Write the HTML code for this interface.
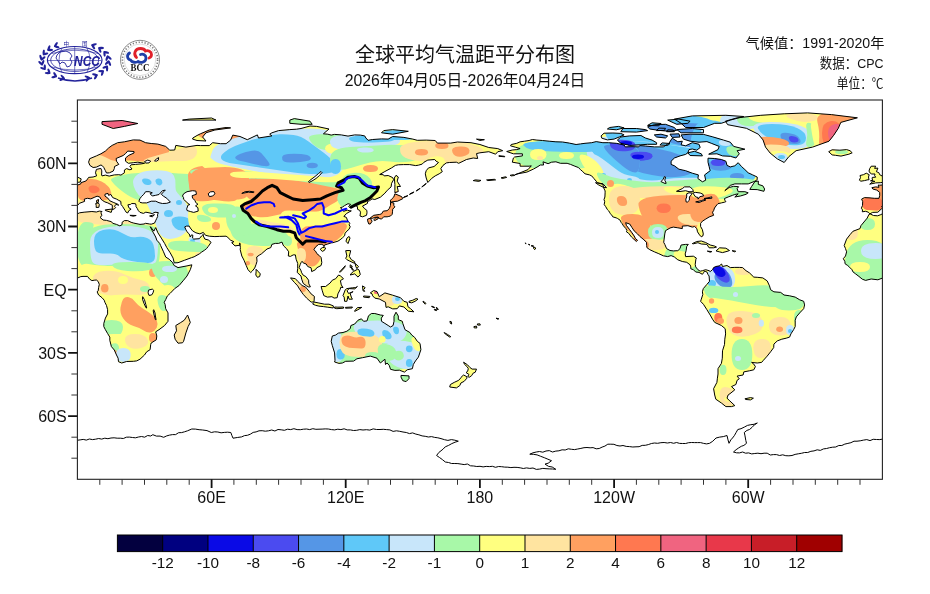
<!DOCTYPE html>
<html><head><meta charset="utf-8"><style>
html,body{margin:0;padding:0;background:#fff;width:930px;height:594px;overflow:hidden}
svg{display:block}
.t{font-family:"Liberation Sans","Noto Sans CJK SC",sans-serif;fill:#111}
</style></head><body>
<svg width="930" height="594" viewBox="0 0 930 594">
<defs>
<clipPath id="fr"><rect x="77.4" y="100" width="805" height="379.3"/></clipPath>
<clipPath id="ld"><path d="M64.9,213.9L67.6,212.4L72.9,212.2L76.3,209.0L77.8,208.0L76.7,206.5L79.4,203.3L84.6,201.4L84.3,199.1L87.5,198.3L90.8,198.9L94.2,197.4L97.1,196.2L99.8,197.0L100.9,199.1L102.4,200.4L104.9,201.9L107.8,202.9L112.3,205.2L112.3,209.6L114.5,208.8L115.6,207.5L114.5,206.3L115.9,204.4L118.8,205.2L117.7,204.2L113.2,202.3L109.8,200.8L107.8,198.1L104.9,196.0L105.1,194.1L108.0,193.4L108.5,195.3L110.9,194.5L112.7,197.6L116.5,199.1L118.8,200.4L120.8,201.4L121.0,204.4L122.6,206.5L125.0,210.3L126.1,212.2L127.7,213.0L128.8,210.7L131.1,209.2L128.8,207.7L127.9,204.8L130.6,204.4L131.7,203.5L135.5,203.7L136.0,205.2L136.0,206.5L137.3,208.6L138.4,210.7L140.0,212.4L143.4,213.4L145.8,212.2L149.0,212.8L152.3,213.6L155.0,212.2L158.3,212.6L157.5,214.9L157.7,216.4L156.8,218.3L155.9,220.2L154.5,223.1L151.2,224.2L149.6,224.0L145.6,223.3L144.0,224.0L140.0,224.4L133.8,223.1L131.1,222.3L127.7,220.6L124.4,220.6L122.1,222.3L122.1,224.6L119.9,225.9L116.5,224.4L112.7,223.3L111.4,221.7L106.5,220.4L103.1,220.0L100.0,217.4L102.0,215.5L100.9,212.8L102.0,211.5L99.3,211.1L96.4,212.0L91.9,211.5L84.1,212.2L79.6,212.8L75.2,214.9L72.5,215.8L68.5,215.5L65.5,214.1L64.0,214.3L62.2,218.1L55.9,225.7L55.0,228.6L47.9,231.3L45.0,234.7L41.6,239.1L39.2,245.5L40.5,248.6L41.6,251.8L40.5,256.0L38.3,258.7L39.8,261.3L40.1,263.8L42.7,265.5L44.5,267.2L47.0,269.7L47.9,271.8L50.6,273.9L53.9,276.4L57.3,279.2L60.6,280.4L66.2,279.0L72.9,279.8L77.4,278.1L80.8,276.6L83.0,276.4L87.5,276.4L89.7,279.2L91.9,280.6L94.2,280.2L96.4,280.0L98.2,281.5L99.3,284.4L98.6,287.6L98.2,290.8L97.1,291.8L98.6,295.0L102.0,297.7L104.2,300.2L104.9,302.3L106.5,305.5L107.6,309.7L107.6,313.9L105.4,318.1L103.8,323.4L103.8,326.6L105.4,329.7L107.6,333.5L109.8,337.1L109.8,340.3L111.4,346.6L114.3,350.0L116.5,355.0L118.1,358.2L118.5,361.7L121.7,363.0L126.6,361.5L133.3,361.3L136.7,360.9L140.0,359.2L144.5,355.0L146.7,351.8L150.1,349.7L150.7,344.5L151.2,343.0L156.3,339.8L156.8,336.0L155.7,331.8L159.0,329.7L164.6,325.5L168.0,321.3L168.0,312.9L165.7,308.7L165.1,304.4L164.2,302.3L165.7,299.6L167.3,296.0L170.2,293.3L174.7,288.6L179.1,285.5L183.6,280.2L187.0,276.0L190.3,269.7L191.9,264.8L187.0,265.9L178.0,267.6L174.2,265.5L172.4,262.3L169.1,259.2L165.7,257.0L163.5,251.8L160.6,245.5L159.7,243.4L156.8,240.2L155.7,237.0L153.4,232.8L152.3,230.7L150.3,226.7L153.9,231.1L155.7,227.6L157.9,232.8L161.3,238.1L164.6,243.4L166.8,247.6L170.2,252.8L173.1,258.1L174.2,262.9L178.0,262.7L184.7,260.2L191.4,257.7L194.1,256.8L199.3,253.9L201.5,252.2L204.4,250.3L206.6,248.6L208.2,246.5L211.1,242.3L208.4,240.0L204.9,239.1L203.3,236.0L203.3,234.3L201.5,236.0L199.3,238.7L193.7,239.1L192.6,238.1L192.8,235.1L191.4,234.9L190.3,237.0L189.2,233.9L187.0,231.8L185.9,229.7L184.7,226.9L186.5,226.1L189.2,226.1L190.3,228.0L192.6,230.9L195.9,232.8L199.9,233.9L203.3,232.4L205.5,235.3L209.3,236.2L214.9,236.6L219.4,236.4L226.1,236.2L227.9,237.5L230.6,240.2L233.9,241.7L231.7,242.7L235.0,245.9L240.0,245.2L239.7,242.9L240.4,247.6L240.2,249.7L241.8,256.0L244.0,260.2L246.2,265.5L248.0,269.7L250.7,272.6L252.3,271.0L254.7,268.0L256.1,264.4L257.0,261.3L256.7,257.0L259.2,255.2L261.4,253.9L267.0,249.0L270.8,247.6L271.9,244.4L275.3,243.4L278.6,243.4L282.0,242.1L283.1,245.0L283.8,246.1L286.5,248.6L288.7,251.8L288.3,256.0L290.5,256.4L293.2,254.9L295.4,254.9L296.1,259.2L297.7,263.4L297.7,268.6L297.2,272.4L301.0,276.0L301.7,279.2L303.2,283.4L306.6,285.9L308.8,287.0L310.4,286.8L308.8,283.8L308.6,280.2L305.9,276.6L303.2,275.2L301.7,272.8L300.8,270.1L299.2,267.6L300.1,264.8L301.0,262.7L302.1,261.3L303.2,262.9L306.2,264.0L307.7,266.5L311.1,267.8L311.7,271.6L315.5,269.7L316.7,267.8L321.1,265.5L321.8,262.5L321.1,257.5L319.3,255.6L316.9,253.7L315.5,251.1L313.8,249.7L315.8,246.7L318.7,244.4L322.5,244.2L324.0,246.7L324.5,245.0L327.2,244.2L331.2,242.9L332.8,242.7L337.9,241.2L340.1,239.8L342.4,237.9L344.6,235.8L345.1,233.2L346.9,231.1L349.1,229.2L350.2,226.7L349.1,224.8L350.0,223.3L347.7,221.0L346.4,217.4L343.9,216.4L346.4,213.6L349.1,212.0L351.3,210.9L349.1,210.7L347.3,210.1L343.5,211.3L342.4,209.6L340.4,207.7L342.4,207.1L344.6,205.6L348.0,203.7L350.7,204.4L348.6,206.5L349.5,207.5L351.3,206.5L355.3,205.6L357.4,206.5L357.6,209.4L359.6,210.3L360.5,212.2L360.0,216.0L362.5,216.8L366.5,215.3L367.0,212.8L366.8,210.3L364.3,208.4L362.5,206.1L365.0,204.8L367.6,203.3L367.4,201.6L369.7,200.6L372.1,198.9L374.8,199.5L380.4,197.2L384.9,193.2L387.3,190.3L391.1,186.9L391.6,183.3L393.6,179.7L392.7,177.6L388.2,175.5L384.2,175.9L383.3,174.7L379.7,174.5L384.9,171.5L391.6,167.9L395.4,165.4L398.3,164.8L403.6,164.6L409.7,164.6L415.7,165.6L418.4,165.2L422.2,164.1L424.0,162.2L427.8,160.1L434.7,159.5L436.1,161.2L438.5,162.5L434.1,166.5L428.5,167.9L426.2,170.7L425.3,173.8L426.2,178.0L427.8,182.5L431.8,178.3L435.2,175.9L439.2,173.8L442.3,171.7L440.8,168.6L443.0,165.4L446.4,162.9L449.3,162.5L456.4,162.2L458.7,163.3L463.1,161.2L466.5,159.5L473.2,158.0L477.7,158.5L476.5,153.6L479.9,152.8L488.8,151.7L495.6,154.2L497.8,151.7L502.7,150.7L497.8,148.6L488.8,147.5L479.9,144.5L471.0,142.7L457.5,142.0L450.8,143.1L437.4,143.1L435.2,140.5L426.2,140.1L417.3,140.3L412.8,139.1L403.9,137.4L392.7,136.5L388.2,139.1L381.5,138.9L372.6,139.5L368.1,140.3L365.9,138.0L364.7,135.9L360.3,135.1L354.7,134.9L348.0,136.1L341.3,134.9L334.6,134.4L331.2,135.1L327.8,134.2L323.4,133.8L329.0,129.0L316.7,126.4L310.0,126.0L301.0,128.5L296.5,129.2L289.8,129.6L278.6,130.6L271.9,132.8L269.7,134.2L271.9,135.9L258.5,138.0L257.4,134.9L247.3,139.7L240.0,136.5L232.8,135.1L230.6,140.1L226.1,143.7L220.5,143.7L212.7,142.7L209.3,145.6L200.4,145.6L197.0,145.4L185.9,147.1L175.8,145.4L174.7,150.0L169.8,150.2L165.7,146.4L157.9,144.1L151.2,143.5L145.6,142.7L140.0,140.1L133.3,139.9L124.4,141.8L117.7,142.7L112.1,145.4L108.7,147.9L105.4,151.1L100.9,153.8L96.4,155.9L89.7,158.7L88.6,162.2L89.9,165.4L93.1,167.5L96.4,167.1L100.9,165.0L102.2,165.6L103.8,167.5L105.4,170.7L106.5,173.0L109.4,172.8L113.2,171.1L114.3,168.6L114.5,166.5L118.8,164.4L116.5,161.2L116.1,158.5L123.2,155.5L125.5,153.6L127.7,151.1L134.0,151.5L134.0,153.0L128.8,155.3L125.5,158.0L125.5,161.2L128.4,163.3L133.3,162.7L137.8,162.2L144.5,163.3L141.1,163.9L135.5,164.4L131.1,164.8L129.9,166.5L132.0,169.0L129.9,169.8L126.6,168.6L124.4,170.0L124.4,172.8L122.1,174.3L121.0,175.1L118.8,174.7L114.3,174.9L109.2,176.1L105.4,175.1L102.0,175.9L101.6,175.1L101.8,170.9L100.9,168.4L96.4,169.4L95.5,172.8L96.6,175.9L93.1,177.0L88.6,177.4L87.5,179.1L85.9,181.0L83.0,182.0L81.0,182.5L80.8,183.9L77.8,185.0L74.5,185.2L73.2,185.0L74.0,187.3L70.7,186.9L66.9,187.7L67.8,189.0L71.8,190.1L74.7,192.4L74.7,195.5L74.0,198.3L69.6,198.3L64.0,197.8L59.5,197.6L56.6,199.1L57.7,201.6L57.5,205.4L56.4,208.2L57.5,209.9L57.3,211.8L60.6,211.3L63.3,212.2ZM869.9,213.9L872.6,212.4L877.9,212.2L881.3,209.0L882.8,208.0L881.7,206.5L884.4,203.3L889.6,201.4L889.3,199.1L892.5,198.3L895.8,198.9L899.2,197.4L902.1,196.2L904.8,197.0L905.9,199.1L907.4,200.4L909.9,201.9L912.8,202.9L917.3,205.2L917.3,209.6L919.5,208.8L920.6,207.5L919.5,206.3L920.9,204.4L923.8,205.2L922.6,204.2L918.2,202.3L914.8,200.8L912.8,198.1L909.9,196.0L910.1,194.1L913.0,193.4L913.5,195.3L915.9,194.5L917.7,197.6L921.5,199.1L923.8,200.4L925.8,201.4L926.0,204.4L927.6,206.5L930.0,210.3L931.1,212.2L932.7,213.0L933.8,210.7L936.1,209.2L933.8,207.7L932.9,204.8L935.6,204.4L936.7,203.5L940.5,203.7L941.0,205.2L941.0,206.5L942.3,208.6L943.4,210.7L945.0,212.4L948.4,213.4L950.8,212.2L954.0,212.8L957.3,213.6L960.0,212.2L963.3,212.6L962.5,214.9L962.7,216.4L961.8,218.3L960.9,220.2L959.5,223.1L956.2,224.2L954.6,224.0L950.6,223.3L949.0,224.0L945.0,224.4L938.8,223.1L936.1,222.3L932.7,220.6L929.4,220.6L927.1,222.3L927.1,224.6L924.9,225.9L921.5,224.4L917.7,223.3L916.4,221.7L911.5,220.4L908.1,220.0L905.0,217.4L907.0,215.5L905.9,212.8L907.0,211.5L904.3,211.1L901.4,212.0L896.9,211.5L889.1,212.2L884.6,212.8L880.2,214.9L877.5,215.8L873.5,215.5L870.5,214.1L869.0,214.3L867.2,218.1L860.9,225.7L860.0,228.6L852.9,231.3L850.0,234.7L846.6,239.1L844.2,245.5L845.5,248.6L846.6,251.8L845.5,256.0L843.3,258.7L844.8,261.3L845.1,263.8L847.7,265.5L849.5,267.2L852.0,269.7L852.9,271.8L855.6,273.9L858.9,276.4L862.3,279.2L865.6,280.4L871.2,279.0L877.9,279.8L882.4,278.1L885.8,276.6L888.0,276.4L892.5,276.4L894.7,279.2L896.9,280.6L899.2,280.2L901.4,280.0L903.2,281.5L904.3,284.4L903.6,287.6L903.2,290.8L902.1,291.8L903.6,295.0L907.0,297.7L909.2,300.2L909.9,302.3L911.5,305.5L912.6,309.7L912.6,313.9L910.4,318.1L908.8,323.4L908.8,326.6L910.4,329.7L912.6,333.5L914.8,337.1L914.8,340.3L916.4,346.6L919.3,350.0L921.5,355.0L923.1,358.2L923.5,361.7L926.7,363.0L931.6,361.5L938.3,361.3L941.7,360.9L945.0,359.2L949.5,355.0L951.7,351.8L955.1,349.7L955.7,344.5L956.2,343.0L961.3,339.8L961.8,336.0L960.7,331.8L964.0,329.7L969.6,325.5L973.0,321.3L973.0,312.9L970.7,308.7L970.1,304.4L969.2,302.3L970.7,299.6L972.3,296.0L975.2,293.3L979.7,288.6L984.1,285.5L988.6,280.2L992.0,276.0L995.3,269.7L996.9,264.8L992.0,265.9L983.0,267.6L979.2,265.5L977.4,262.3L974.1,259.2L970.7,257.0L968.5,251.8L965.6,245.5L964.7,243.4L961.8,240.2L960.7,237.0L958.4,232.8L957.3,230.7L955.3,226.7L958.9,231.1L960.7,227.6L962.9,232.8L966.3,238.1L969.6,243.4L971.8,247.6L975.2,252.8L978.1,258.1L979.2,262.9L983.0,262.7L989.7,260.2L996.4,257.7L999.1,256.8L1004.3,253.9L1006.5,252.2L1009.4,250.3L1011.6,248.6L1013.2,246.5L1016.1,242.3L1013.4,240.0L1009.9,239.1L1008.3,236.0L1008.3,234.3L1006.5,236.0L1004.3,238.7L998.7,239.1L997.6,238.1L997.8,235.1L996.4,234.9L995.3,237.0L994.2,233.9L992.0,231.8L990.9,229.7L989.7,226.9L991.5,226.1L994.2,226.1L995.3,228.0L997.6,230.9L1000.9,232.8L1004.9,233.9L1008.3,232.4L1010.5,235.3L1014.3,236.2L1019.9,236.6L1024.4,236.4L1031.1,236.2L1032.9,237.5L1035.6,240.2L1038.9,241.7L1036.7,242.7L1040.0,245.9L1045.0,245.2L1044.7,242.9L1045.4,247.6L1045.2,249.7L1046.8,256.0L1049.0,260.2L1051.2,265.5L1053.0,269.7L1055.7,272.6L1057.3,271.0L1059.7,268.0L1061.1,264.4L1062.0,261.3L1061.7,257.0L1064.2,255.2L1066.4,253.9L1072.0,249.0L1075.8,247.6L1076.9,244.4L1080.3,243.4L1083.7,243.4L1087.0,242.1L1088.1,245.0L1088.8,246.1L1091.5,248.6L1093.7,251.8L1093.3,256.0L1095.5,256.4L1098.2,254.9L1100.4,254.9L1101.1,259.2L1102.7,263.4L1102.7,268.6L1102.2,272.4L1106.0,276.0L1106.7,279.2L1108.2,283.4L1111.6,285.9L1113.8,287.0L1115.4,286.8L1113.8,283.8L1113.6,280.2L1110.9,276.6L1108.2,275.2L1106.7,272.8L1105.8,270.1L1104.2,267.6L1105.1,264.8L1106.0,262.7L1107.1,261.3L1108.2,262.9L1111.2,264.0L1112.7,266.5L1116.1,267.8L1116.7,271.6L1120.5,269.7L1121.7,267.8L1126.1,265.5L1126.8,262.5L1126.1,257.5L1124.3,255.6L1121.9,253.7L1120.5,251.1L1118.8,249.7L1120.8,246.7L1123.7,244.4L1127.5,244.2L1129.0,246.7L1129.5,245.0L1132.2,244.2L1136.2,242.9L1137.8,242.7L1142.9,241.2L1145.1,239.8L1147.4,237.9L1149.6,235.8L1150.1,233.2L1151.9,231.1L1154.1,229.2L1155.2,226.7L1154.1,224.8L1155.0,223.3L1152.7,221.0L1151.4,217.4L1148.9,216.4L1151.4,213.6L1154.1,212.0L1156.3,210.9L1154.1,210.7L1152.3,210.1L1148.5,211.3L1147.4,209.6L1145.4,207.7L1147.4,207.1L1149.6,205.6L1153.0,203.7L1155.7,204.4L1153.6,206.5L1154.5,207.5L1156.3,206.5L1160.3,205.6L1162.4,206.5L1162.6,209.4L1164.6,210.3L1165.5,212.2L1165.0,216.0L1167.5,216.8L1171.5,215.3L1172.0,212.8L1171.8,210.3L1169.3,208.4L1167.5,206.1L1170.0,204.8L1172.6,203.3L1172.4,201.6L1174.7,200.6L1177.1,198.9L1179.8,199.5L1185.4,197.2L1189.9,193.2L1192.3,190.3L1196.1,186.9L1196.6,183.3L1198.6,179.7L1197.7,177.6L1193.2,175.5L1189.2,175.9L1188.3,174.7L1184.7,174.5L1189.9,171.5L1196.6,167.9L1200.4,165.4L1203.3,164.8L1208.6,164.6L1214.7,164.6L1220.7,165.6L1223.4,165.2L1227.2,164.1L1229.0,162.2L1232.8,160.1L1239.7,159.5L1241.1,161.2L1243.5,162.5L1239.1,166.5L1233.5,167.9L1231.2,170.7L1230.3,173.8L1231.2,178.0L1232.8,182.5L1236.8,178.3L1240.2,175.9L1244.2,173.8L1247.3,171.7L1245.8,168.6L1248.0,165.4L1251.4,162.9L1254.3,162.5L1261.4,162.2L1263.7,163.3L1268.1,161.2L1271.5,159.5L1278.2,158.0L1282.7,158.5L1281.5,153.6L1284.9,152.8L1293.8,151.7L1300.6,154.2L1302.8,151.7L1307.7,150.7L1302.8,148.6L1293.8,147.5L1284.9,144.5L1276.0,142.7L1262.5,142.0L1255.8,143.1L1242.4,143.1L1240.2,140.5L1231.2,140.1L1222.3,140.3L1217.8,139.1L1208.9,137.4L1197.7,136.5L1193.2,139.1L1186.5,138.9L1177.6,139.5L1173.1,140.3L1170.9,138.0L1169.7,135.9L1165.3,135.1L1159.7,134.9L1153.0,136.1L1146.3,134.9L1139.6,134.4L1136.2,135.1L1132.8,134.2L1128.4,133.8L1134.0,129.0L1121.7,126.4L1115.0,126.0L1106.0,128.5L1101.5,129.2L1094.8,129.6L1083.7,130.6L1076.9,132.8L1074.7,134.2L1076.9,135.9L1063.5,138.0L1062.4,134.9L1052.3,139.7L1045.0,136.5L1037.8,135.1L1035.6,140.1L1031.1,143.7L1025.5,143.7L1017.7,142.7L1014.3,145.6L1005.4,145.6L1002.0,145.4L990.9,147.1L980.8,145.4L979.7,150.0L974.8,150.2L970.7,146.4L962.9,144.1L956.2,143.5L950.6,142.7L945.0,140.1L938.3,139.9L929.4,141.8L922.6,142.7L917.1,145.4L913.7,147.9L910.4,151.1L905.9,153.8L901.4,155.9L894.7,158.7L893.6,162.2L894.9,165.4L898.1,167.5L901.4,167.1L905.9,165.0L907.2,165.6L908.8,167.5L910.4,170.7L911.5,173.0L914.4,172.8L918.2,171.1L919.3,168.6L919.5,166.5L923.8,164.4L921.5,161.2L921.1,158.5L928.2,155.5L930.5,153.6L932.7,151.1L939.0,151.5L939.0,153.0L933.8,155.3L930.5,158.0L930.5,161.2L933.4,163.3L938.3,162.7L942.8,162.2L949.5,163.3L946.1,163.9L940.5,164.4L936.1,164.8L934.9,166.5L937.0,169.0L934.9,169.8L931.6,168.6L929.4,170.0L929.4,172.8L927.1,174.3L926.0,175.1L923.8,174.7L919.3,174.9L914.2,176.1L910.4,175.1L907.0,175.9L906.6,175.1L906.8,170.9L905.9,168.4L901.4,169.4L900.5,172.8L901.6,175.9L898.1,177.0L893.6,177.4L892.5,179.1L890.9,181.0L888.0,182.0L886.0,182.5L885.8,183.9L882.8,185.0L879.5,185.2L878.2,185.0L879.0,187.3L875.7,186.9L871.9,187.7L872.8,189.0L876.8,190.1L879.7,192.4L879.7,195.5L879.0,198.3L874.6,198.3L869.0,197.8L864.5,197.6L861.6,199.1L862.7,201.6L862.5,205.4L861.4,208.2L862.5,209.9L862.3,211.8L865.6,211.3L868.3,212.2ZM506.7,151.5L513.4,153.8L522.4,153.8L522.4,155.9L514.6,157.0L513.4,158.0L512.3,162.2L520.1,163.5L520.1,166.2L529.1,166.2L531.3,165.8L528.0,169.6L520.1,172.8L514.6,174.9L517.9,173.8L526.9,172.1L533.6,169.0L538.0,166.5L540.3,165.0L543.6,165.0L543.0,161.8L548.1,163.7L551.5,162.2L555.9,161.8L560.4,163.3L567.1,163.3L570.5,164.4L574.9,166.2L578.3,167.5L580.5,169.6L582.8,171.7L585.0,173.8L589.5,174.9L591.7,175.9L593.9,178.5L596.2,181.2L597.3,182.7L602.9,184.4L603.6,187.7L605.1,190.9L605.1,192.8L604.9,197.0L604.0,199.5L604.7,201.6L604.2,204.6L605.6,206.5L607.4,209.6L608.5,210.7L609.6,212.2L609.8,213.2L611.8,215.1L612.7,216.8L616.3,217.9L617.6,218.5L620.1,220.2L621.2,222.5L621.9,223.3L623.5,225.9L625.9,228.6L627.0,230.7L626.4,231.8L628.6,233.2L631.5,237.0L633.1,238.5L636.4,241.5L637.5,240.2L635.5,238.7L634.2,236.0L632.0,232.8L629.7,229.7L626.4,225.4L625.7,222.7L629.7,224.0L632.0,227.6L634.2,230.9L637.5,233.9L639.8,236.4L643.1,239.1L646.5,242.3L646.7,245.5L646.9,247.6L649.8,249.7L654.3,251.8L658.8,253.7L663.3,255.8L667.7,256.6L671.1,255.6L674.4,257.0L677.8,259.8L682.3,261.5L686.7,262.3L690.1,264.8L690.8,266.9L690.8,268.8L693.4,269.7L695.7,272.0L699.0,272.4L702.4,274.3L703.5,272.8L704.6,271.0L706.9,272.0L708.0,274.5L709.1,276.0L709.5,281.3L706.9,284.4L703.3,288.6L702.4,291.8L702.8,294.5L701.3,299.2L700.6,301.3L703.5,304.4L706.9,309.7L710.2,315.0L712.5,319.2L714.7,322.4L721.4,325.5L725.2,328.7L725.6,333.9L724.8,339.2L724.5,344.5L722.5,350.8L722.3,358.2L721.4,363.4L718.0,368.7L718.0,374.0L717.4,378.2L716.9,382.4L713.6,388.7L714.7,395.0L715.8,399.2L721.4,403.0L725.9,406.6L731.5,406.6L734.8,405.6L729.2,400.3L727.0,398.2L728.1,395.0L731.0,392.9L734.8,389.8L731.5,386.6L735.9,384.5L737.1,380.3L739.3,378.8L737.1,376.1L743.1,375.0L743.8,371.9L749.4,370.8L753.8,369.8L755.4,366.6L753.8,364.1L751.6,362.4L757.2,363.0L761.6,362.4L763.4,360.3L767.2,356.1L770.6,351.8L773.7,347.6L773.9,344.1L777.3,340.9L781.8,339.2L786.2,338.2L789.6,337.1L790.9,333.9L793.6,329.7L795.2,326.6L795.2,320.2L796.3,316.9L799.7,312.9L803.7,308.7L804.6,304.9L803.7,301.3L799.7,299.8L795.2,297.1L789.6,295.8L784.0,295.0L780.7,292.4L773.9,291.8L770.6,289.7L769.5,285.9L767.2,280.9L762.8,277.9L757.2,277.3L753.8,277.1L749.4,272.8L746.0,270.7L742.6,267.6L739.3,267.4L734.8,267.4L730.3,267.6L727.0,265.5L722.5,266.5L721.6,264.0L719.2,265.9L715.8,266.5L713.6,267.6L712.5,269.7L710.2,271.6L709.1,270.7L705.7,269.7L702.4,270.7L700.2,271.2L697.9,269.7L695.7,266.9L695.2,264.4L695.9,259.2L696.4,258.1L693.4,256.2L689.0,256.4L685.6,256.6L685.2,253.9L686.1,250.7L686.7,246.5L688.3,244.4L685.6,244.4L681.1,245.0L680.0,248.6L677.8,250.7L673.3,250.9L670.0,250.5L666.6,248.6L664.8,244.4L663.7,242.3L664.4,237.0L664.8,233.9L665.5,230.7L670.0,228.0L673.3,227.1L677.8,227.8L682.3,228.6L682.3,226.1L687.9,225.7L692.3,227.1L694.6,226.5L696.8,228.6L697.5,231.8L699.5,234.9L701.3,236.8L702.8,236.0L703.3,233.9L702.4,229.7L700.6,226.5L700.6,223.3L702.4,221.2L705.7,219.1L709.1,217.0L713.6,215.3L712.5,212.2L713.6,210.7L714.5,208.0L716.9,204.8L718.0,203.7L721.4,202.9L724.8,202.1L725.9,201.6L724.8,200.2L724.5,198.5L728.1,197.0L732.6,195.3L734.8,194.5L738.2,193.8L734.8,197.0L740.4,196.0L746.0,194.3L748.2,192.8L744.9,191.7L738.2,191.7L737.1,188.6L738.6,186.7L733.7,186.3L729.2,187.5L724.8,190.7L730.3,185.4L734.8,183.9L741.5,183.9L748.2,183.9L754.9,181.2L757.2,179.7L757.2,177.0L752.7,174.9L748.2,172.8L744.9,169.6L741.5,166.5L738.2,162.7L734.8,165.8L730.3,166.9L727.0,165.4L725.9,161.2L721.4,159.5L714.7,158.5L708.0,158.2L708.0,162.2L709.1,166.5L710.2,170.7L704.6,174.9L705.7,180.2L702.4,181.8L697.9,178.5L698.4,174.9L692.3,173.2L685.6,170.7L678.9,169.2L674.4,165.8L671.1,164.4L671.1,161.2L674.4,158.0L680.0,155.9L685.6,154.4L687.9,152.8L689.0,149.6L692.3,149.0L696.8,150.2L700.2,147.5L699.0,144.3L692.3,142.7L685.6,145.8L681.1,144.8L682.3,141.2L677.8,141.8L672.2,138.2L668.9,143.3L663.3,146.9L654.3,146.9L645.4,146.0L639.8,145.6L638.7,146.9L632.0,146.7L625.2,146.9L624.1,145.0L616.3,143.3L608.5,142.7L602.9,142.7L596.2,141.6L591.7,142.7L585.0,143.3L580.5,143.9L576.1,144.5L569.3,143.1L562.6,142.0L555.9,141.8L549.2,141.2L542.5,140.5L536.9,140.1L532.4,139.5L529.1,140.5L524.6,141.2L520.1,141.8L516.8,143.3L511.2,144.5L510.5,145.8L515.7,147.3L520.1,148.6L516.8,149.6L512.3,150.0ZM725.4,121.2L737.2,117.8L760.8,115.3L784.2,113.8L807.7,112.9L831.4,114.6L857.4,117.8L840.8,122.4L838.3,128.3L833.7,135.3L829.0,141.2L812.6,147.1L796.1,150.7L788.9,156.6L784.2,162.5L777.3,158.9L770.1,153.0L765.5,147.1L763.0,139.9L758.3,134.2L746.4,128.3L727.7,124.7ZM744.9,149.2L737.1,150.7L739.3,153.8L735.9,158.0L730.3,156.3L722.5,155.9L716.9,153.8L708.7,154.2L718.0,149.6L719.2,146.4L711.3,143.3L706.9,141.6L699.0,142.2L690.1,141.2L683.4,139.1L681.1,134.9L690.1,134.2L703.5,134.4L712.5,136.8L723.6,140.1L730.3,142.2L733.7,146.4ZM656.6,144.3L647.6,144.3L640.9,144.8L629.7,145.4L620.8,143.3L617.4,140.1L620.8,137.0L629.7,135.9L640.9,135.5L645.4,138.0L652.1,140.1L656.6,142.7ZM601.8,138.2L607.4,139.9L614.1,139.1L619.7,136.8L624.1,134.9L620.8,133.4L612.9,133.0L604.0,133.2L601.1,135.9ZM607.4,129.0L616.3,129.8L624.1,127.9L618.5,126.4L609.6,127.5ZM656.6,130.6L664.4,130.4L665.5,128.3L658.8,128.1ZM666.6,131.7L674.4,131.7L673.3,130.0L667.7,129.8ZM647.6,125.4L658.8,125.8L661.0,123.5L652.1,122.8ZM649.8,129.0L658.8,130.4L670.0,131.3L676.7,130.4L674.4,127.5L665.5,124.3L654.3,124.7L647.6,126.9ZM659.9,145.0L667.7,145.4L670.0,143.5L662.1,142.9ZM714.7,123.3L703.5,127.5L685.6,127.5L681.1,123.3L674.4,119.1L692.3,115.9L725.9,115.3L743.8,116.5L730.3,120.1L721.4,123.3ZM703.5,132.8L681.1,132.8L676.7,129.6L692.3,128.5L703.5,129.6ZM647.6,130.6L636.4,132.1L620.8,131.7L623.0,128.5L636.4,128.5L645.4,129.6ZM665.5,138.0L656.6,137.0L654.3,134.9L661.0,134.2L667.7,135.9ZM680.0,137.0L672.2,137.4L670.0,134.2L678.9,133.8ZM687.9,123.3L676.7,124.3L667.7,120.1L678.9,119.1L690.1,121.2ZM702.4,155.9L690.1,155.5L687.9,152.8L694.6,151.3L701.3,153.8ZM749.8,189.4L757.2,189.6L763.9,191.3L764.6,189.0L762.8,185.8L758.3,184.4L758.3,181.0L754.9,181.6L751.6,186.5ZM692.3,243.6L696.8,241.5L701.3,241.0L705.7,242.5L710.2,245.0L714.7,246.1L716.5,247.1L713.6,247.8L709.1,247.8L706.9,244.4L701.3,244.0L697.9,242.7L693.4,243.8ZM716.0,250.9L719.6,247.8L725.9,248.2L729.5,250.5L727.0,251.4L722.5,252.6L719.2,251.8ZM707.3,251.1L711.8,251.6L710.2,252.2ZM732.1,250.7L735.7,251.1L734.8,252.0ZM595.5,182.7L602.9,183.7L606.5,187.7L603.3,187.3L598.4,184.8ZM370.1,218.1L373.7,215.3L379.3,214.5L381.5,213.9L383.3,211.1L387.1,210.7L389.3,208.6L390.5,205.4L390.5,202.5L393.8,202.9L393.8,205.4L394.9,206.9L392.7,209.2L392.5,211.8L392.2,214.3L390.5,216.0L388.2,216.6L387.1,216.8L383.7,216.8L381.5,219.1L379.3,218.5L378.2,217.0L374.8,217.4L372.6,218.3L370.3,218.3ZM367.6,219.1L370.3,218.3L372.1,221.2L370.3,224.0L368.8,224.0L367.6,220.8ZM373.7,219.8L375.9,217.7L378.6,217.7L378.2,218.7L374.8,220.6ZM390.5,202.3L393.1,201.6L397.6,201.2L402.8,198.7L401.6,196.6L394.9,193.8L393.8,197.0L391.6,199.1L390.5,200.2ZM394.9,192.8L398.3,191.5L397.2,186.5L400.5,186.5L397.2,181.2L398.3,177.0L396.0,175.3L394.3,178.0L394.9,184.4L394.9,190.7ZM346.0,241.2L348.0,243.6L350.0,238.1L349.1,236.4L346.9,238.1ZM320.2,249.3L322.3,251.4L324.5,250.3L325.6,248.0L324.5,247.4L322.3,247.6ZM345.7,250.7L346.9,256.0L345.7,258.3L347.1,259.8L349.1,260.8L354.7,263.4L354.7,261.7L351.3,259.6L349.3,256.4L350.7,250.7L348.0,250.5ZM350.2,275.0L354.7,273.9L358.0,277.1L360.3,274.5L359.1,270.1L357.8,269.1L353.6,271.4L351.3,273.3ZM355.1,263.4L358.5,266.5L356.9,268.6L355.8,266.5ZM350.2,264.8L352.4,266.5L350.2,267.6ZM351.3,266.9L353.6,270.3L352.0,269.7ZM339.5,272.0L345.3,265.7L344.6,267.6L340.1,272.4ZM321.1,286.5L322.3,290.8L323.8,295.6L327.4,297.1L331.9,296.7L334.1,298.1L337.2,297.7L337.9,293.9L340.1,289.7L340.8,287.2L343.0,287.6L341.3,284.9L340.4,280.6L343.5,278.7L340.6,276.0L338.6,275.0L335.7,278.7L332.3,280.2L330.1,283.0L325.6,286.5ZM290.5,277.9L295.4,278.7L297.7,281.3L302.1,285.5L305.5,287.0L309.5,291.8L311.1,293.9L314.4,296.4L314.0,301.9L311.1,302.1L306.6,298.1L303.2,294.3L299.9,289.7L297.7,285.9L294.3,282.3ZM312.6,304.0L314.4,302.1L318.9,303.0L324.5,304.2L329.0,304.2L333.4,305.9L333.2,308.0L327.8,307.2L323.4,306.6L318.9,306.1L315.5,305.3ZM334.6,307.0L337.9,307.2L343.5,307.0L343.5,308.2L336.8,308.7L334.6,308.2ZM345.3,307.4L352.4,307.0L352.0,308.0L345.5,308.2ZM354.7,310.8L357.4,307.6L361.8,307.4L358.0,309.7L354.7,311.4ZM344.6,301.3L344.2,297.1L343.0,295.6L345.3,289.7L346.9,288.6L352.4,287.8L355.8,287.6L357.4,286.5L354.7,288.9L349.1,288.6L347.1,290.8L348.6,293.5L353.1,291.6L350.2,293.5L351.3,297.1L352.4,299.2L349.1,299.2L348.0,296.0L346.9,301.3ZM362.5,285.9L365.2,287.6L363.6,289.7L364.7,291.4L363.0,290.8ZM363.6,296.0L369.9,296.4L369.2,297.7L363.6,297.1ZM370.3,292.9L373.7,290.5L377.0,291.6L379.3,296.7L384.9,292.9L392.7,295.2L400.5,297.7L403.9,301.3L407.2,302.3L407.9,306.6L410.6,308.7L413.9,311.8L408.3,311.2L403.9,307.0L399.4,305.9L397.2,308.7L392.7,308.9L388.2,306.8L386.0,307.4L385.5,302.3L379.3,299.0L374.8,298.1L372.6,295.8L372.1,293.9ZM409.0,301.3L412.8,300.2L416.2,298.5L418.0,299.2L415.1,301.3L411.7,302.8L409.0,302.3ZM332.3,336.0L331.2,341.3L332.3,345.5L334.6,352.9L335.0,360.3L334.6,362.0L339.0,363.4L342.4,363.0L345.7,361.3L353.6,361.1L356.9,358.8L362.5,357.7L370.3,356.1L377.0,358.2L380.4,363.0L384.9,359.2L385.5,364.5L387.1,363.0L389.3,365.5L390.5,369.3L394.9,370.4L399.4,370.2L404.5,372.1L407.2,369.8L412.4,368.7L413.3,364.5L415.5,360.9L418.4,357.1L420.9,349.7L420.0,343.4L417.3,341.3L414.6,337.3L411.7,335.0L409.9,332.5L405.0,329.7L402.8,323.4L402.3,321.3L398.3,319.6L398.3,316.0L396.0,312.2L394.0,316.2L394.0,321.3L393.1,325.5L390.5,327.0L388.2,325.5L384.9,323.4L381.5,321.3L381.3,318.1L383.3,315.4L380.4,315.0L374.8,313.5L371.4,313.5L368.5,315.8L367.0,320.9L363.6,321.3L361.4,318.8L358.0,320.2L354.7,324.0L350.9,325.5L350.2,328.7L346.9,331.2L343.0,332.5L338.4,333.1L335.7,335.0ZM401.0,375.4L409.0,375.9L409.0,378.6L406.1,381.6L402.8,380.7L401.0,377.1ZM463.6,362.2L467.6,364.9L469.8,367.4L472.1,369.1L476.5,369.1L475.2,372.3L473.2,373.1L471.6,375.7L469.2,377.3L467.8,376.5L468.9,374.4L466.0,372.5L467.6,371.4L468.3,368.7L467.2,366.8L464.5,364.3ZM463.6,375.0L466.9,376.7L466.9,378.2L464.2,381.3L460.9,383.0L459.8,385.6L456.4,387.9L449.7,387.0L450.4,384.5L454.2,382.4L458.7,380.3L460.9,377.8L462.5,375.7ZM187.6,315.0L190.3,322.4L188.1,326.6L185.9,332.9L183.6,341.3L182.5,342.8L178.0,343.2L175.1,339.2L174.2,335.0L176.5,330.8L175.8,325.5L180.3,322.8L184.3,320.2L186.5,316.7ZM256.1,269.3L258.5,271.8L260.3,273.9L259.6,276.6L257.4,277.3L255.8,275.0L256.1,271.8ZM64.7,184.2L70.7,182.9L75.2,182.7L80.3,182.0L81.2,178.9L78.1,177.4L77.0,175.9L74.7,174.7L73.8,172.6L71.4,171.7L72.9,168.1L69.6,168.4L70.7,166.2L66.2,166.2L64.7,168.6L64.0,171.1L65.1,173.0L66.7,174.0L70.0,174.0L69.6,175.5L70.7,177.2L67.3,177.4L67.1,179.1L68.0,180.2L65.5,180.8L70.0,181.4L67.3,182.0ZM869.7,184.2L875.7,182.9L880.2,182.7L885.3,182.0L886.2,178.9L883.1,177.4L882.0,175.9L879.7,174.7L878.8,172.6L876.4,171.7L877.9,168.1L874.6,168.4L875.7,166.2L871.2,166.2L869.7,168.6L869.0,171.1L870.1,173.0L871.7,174.0L875.0,174.0L874.6,175.5L875.7,177.2L872.3,177.4L872.1,179.1L873.0,180.2L870.5,180.8L875.0,181.4L872.3,182.0ZM869.0,179.9L868.5,177.0L869.2,174.7L866.3,173.2L863.4,174.7L860.0,175.5L860.5,177.6L859.4,180.2L860.9,181.2L864.5,180.6L868.1,179.7ZM832.1,154.9L828.7,151.7L832.1,149.8L839.9,150.2L846.6,149.6L850.0,150.7L852.2,152.8L848.9,154.2L841.0,156.1L835.4,155.3ZM96.2,207.5L98.9,207.3L99.3,204.4L98.2,202.9L95.7,203.5L96.2,205.4ZM96.6,202.5L98.2,202.5L98.6,199.5L96.6,200.4ZM105.1,209.9L112.3,209.0L111.2,212.4L105.4,210.5ZM129.9,215.3L136.2,215.5L133.3,216.2L130.2,215.5ZM149.6,216.0L154.5,214.7L152.3,216.8ZM102.0,124.3L113.2,128.5L124.4,126.4L137.8,123.5L122.1,120.5L102.0,121.6ZM192.6,139.1L197.0,140.5L206.0,141.0L202.6,137.0L206.0,132.8L214.9,130.0L230.6,127.9L226.1,127.5L209.3,130.0L200.4,133.8L197.0,135.5L192.8,138.0ZM289.8,123.3L301.0,124.3L312.2,124.3L310.0,121.2L294.3,118.6L289.8,120.1ZM381.5,132.8L392.7,134.2L408.3,131.3L392.7,129.6L383.7,130.6ZM476.5,139.1L484.4,139.7L479.9,140.5ZM182.5,120.1L216.0,120.1L211.6,118.0L189.2,119.1ZM744.9,398.8L750.5,397.6L753.4,398.2L750.5,399.9L746.0,399.5ZM511.2,175.9L514.6,175.5L513.4,174.7L510.1,175.3ZM502.3,178.5L506.7,177.4L505.6,176.8L501.1,177.8ZM487.7,180.6L495.6,179.9L494.4,179.3L486.6,179.9ZM473.2,180.6L478.8,181.4L481.0,180.4L475.4,179.9ZM498.9,155.7L504.5,156.3L504.9,156.8L498.9,156.3ZM403.4,197.6L407.2,196.2L407.9,195.5L403.9,197.0ZM409.5,194.5L413.5,192.6L413.9,191.9L409.9,193.8ZM416.2,191.1L419.5,189.0L420.0,188.4L416.6,190.5ZM421.8,187.1L425.8,184.2L426.2,183.3L422.2,186.5ZM423.1,301.1L426.0,303.4L425.3,304.2L423.1,302.1ZM434.3,309.3L437.0,309.9L436.5,310.6L434.5,310.1ZM436.5,307.2L438.3,309.3L437.9,309.9L436.3,308.0ZM431.8,306.1L434.7,307.4L434.3,307.8L431.6,306.6ZM449.9,321.3L451.3,321.7L451.7,324.0L450.4,323.4ZM444.1,332.5L447.5,334.4L450.8,336.7L449.7,337.1L445.2,333.9ZM473.9,326.6L476.5,326.1L476.8,328.0L474.1,327.8ZM477.2,324.0L479.9,323.8L480.3,325.1L477.7,325.1ZM496.0,318.1L498.9,318.8L497.3,319.2ZM528.4,244.2L530.0,244.8L529.1,245.0ZM525.1,242.9L526.2,243.6L525.5,243.6ZM531.1,245.7L533.3,245.7L533.6,246.3L532.0,246.3ZM533.6,246.9L535.8,248.0L534.7,249.7L533.6,248.4Z"/></clipPath>
</defs>
<rect width="930" height="594" fill="#fff"/>
<g clip-path="url(#fr)">
<g clip-path="url(#ld)">
<rect x="77" y="100" width="806" height="380" fill="#ffff80"/>
<path d="M99.0,155.5Q100.0,152.0 107.5,147.5Q115.0,143.0 127.5,141.0Q140.0,139.0 150.0,140.5Q160.0,142.0 165.0,145.0Q170.0,148.0 169.0,152.5Q168.0,157.0 159.0,159.5Q150.0,162.0 142.5,161.5Q135.0,161.0 130.0,160.5Q125.0,160.0 120.0,161.5Q115.0,163.0 111.5,161.5Q108.0,160.0 103.0,159.5Q98.0,159.0 99.0,155.5Z" fill="#ffa060"/>
<path d="M84.0,160.5Q84.0,156.0 92.0,155.0Q100.0,154.0 105.0,157.0Q110.0,160.0 115.0,161.0Q120.0,162.0 118.5,167.5Q117.0,173.0 111.0,174.0Q105.0,175.0 100.0,172.5Q95.0,170.0 89.5,167.5Q84.0,165.0 84.0,160.5Z" fill="#ffe4a0"/>
<path d="M100.0,123.5Q100.0,119.0 120.0,119.0Q140.0,119.0 140.0,123.5Q140.0,128.0 120.0,128.0Q100.0,128.0 100.0,123.5Z" fill="#f06480"/>
<path d="M145.0,161.5Q140.0,160.0 155.0,156.0Q170.0,152.0 183.5,147.5Q197.0,143.0 197.0,151.5Q197.0,160.0 183.5,161.0Q170.0,162.0 160.0,162.5Q150.0,163.0 145.0,161.5Z" fill="#ffe4a0"/>
<path d="M121.5,170.0Q118.0,164.0 134.0,163.0Q150.0,162.0 173.5,161.0Q197.0,160.0 197.0,168.0Q197.0,176.0 178.5,175.0Q160.0,174.0 142.5,175.0Q125.0,176.0 121.5,170.0Z" fill="#ffff80"/>
<path d="M111.0,180.0Q110.0,178.0 120.0,175.5Q130.0,173.0 145.0,172.5Q160.0,172.0 172.5,173.0Q185.0,174.0 191.0,174.0Q197.0,174.0 197.0,184.5Q197.0,195.0 188.5,197.5Q180.0,200.0 170.0,202.5Q160.0,205.0 147.5,202.5Q135.0,200.0 127.5,195.0Q120.0,190.0 116.0,186.0Q112.0,182.0 111.0,180.0Z" fill="#a8f8a8"/>
<path d="M77.0,190.0Q77.0,180.0 86.0,179.0Q95.0,178.0 101.5,181.5Q108.0,185.0 110.0,189.0Q112.0,193.0 111.0,196.5Q110.0,200.0 100.0,201.0Q90.0,202.0 83.5,201.0Q77.0,200.0 77.0,190.0Z" fill="#ffa060"/>
<path d="M88.5,189.0Q88.0,186.0 92.0,185.5Q96.0,185.0 98.5,187.5Q101.0,190.0 98.0,192.0Q95.0,194.0 92.0,193.0Q89.0,192.0 88.5,189.0Z" fill="#ff7850"/>
<path d="M77.0,205.0Q77.0,200.0 88.5,201.0Q100.0,202.0 106.0,201.0Q112.0,200.0 115.0,205.0Q118.0,210.0 109.0,211.0Q100.0,212.0 88.5,211.0Q77.0,210.0 77.0,205.0Z" fill="#ffe4a0"/>
<path d="M133.0,182.0Q133.0,178.0 137.5,174.5Q142.0,171.0 151.0,170.5Q160.0,170.0 166.0,171.0Q172.0,172.0 174.0,176.0Q176.0,180.0 175.5,185.0Q175.0,190.0 177.5,193.0Q180.0,196.0 184.0,200.5Q188.0,205.0 189.0,213.5Q190.0,222.0 187.5,228.5Q185.0,235.0 177.5,237.5Q170.0,240.0 165.0,238.0Q160.0,236.0 157.5,229.0Q155.0,222.0 152.5,216.0Q150.0,210.0 147.5,205.0Q145.0,200.0 141.5,197.5Q138.0,195.0 135.5,190.5Q133.0,186.0 133.0,182.0Z" fill="#c8e6fa"/>
<path d="M142.5,182.0Q141.0,179.0 144.0,178.5Q147.0,178.0 149.5,179.5Q152.0,181.0 151.5,183.0Q151.0,185.0 147.5,185.0Q144.0,185.0 142.5,182.0Z" fill="#5fc8f8"/>
<path d="M155.5,181.5Q155.0,179.0 158.0,178.5Q161.0,178.0 162.0,180.5Q163.0,183.0 161.5,184.5Q160.0,186.0 158.0,185.0Q156.0,184.0 155.5,181.5Z" fill="#5fc8f8"/>
<path d="M164.0,213.5Q164.0,210.0 168.5,210.0Q173.0,210.0 173.0,213.5Q173.0,217.0 168.5,217.0Q164.0,217.0 164.0,213.5Z" fill="#5fc8f8"/>
<path d="M171.5,221.0Q171.0,217.0 178.5,216.5Q186.0,216.0 189.0,219.0Q192.0,222.0 191.0,226.0Q190.0,230.0 184.0,230.5Q178.0,231.0 175.0,228.0Q172.0,225.0 171.5,221.0Z" fill="#5fc8f8"/>
<path d="M188.0,175.5Q188.0,171.0 194.0,168.0Q200.0,165.0 220.0,165.0Q240.0,165.0 240.0,182.5Q240.0,200.0 234.0,201.0Q228.0,202.0 219.0,200.5Q210.0,199.0 202.5,199.5Q195.0,200.0 192.5,195.0Q190.0,190.0 189.0,185.0Q188.0,180.0 188.0,175.5Z" fill="#ffa060"/>
<path d="M188.0,215.0Q188.0,205.0 199.0,203.5Q210.0,202.0 223.5,203.5Q237.0,205.0 237.0,220.0Q237.0,235.0 226.0,236.5Q215.0,238.0 205.0,237.0Q195.0,236.0 191.5,230.5Q188.0,225.0 188.0,215.0Z" fill="#ffff80"/>
<path d="M212.0,226.0Q212.0,222.0 216.0,222.0Q220.0,222.0 220.0,226.0Q220.0,230.0 216.0,230.0Q212.0,230.0 212.0,226.0Z" fill="#ffa060"/>
<path d="M176.0,202.5Q176.0,200.0 179.0,200.0Q182.0,200.0 182.0,202.5Q182.0,205.0 179.0,205.0Q176.0,205.0 176.0,202.5Z" fill="#5fc8f8"/>
<path d="M196.5,133.0Q193.0,126.0 212.0,126.0Q231.0,126.0 236.5,130.0Q242.0,134.0 242.0,140.5Q242.0,147.0 233.5,143.5Q225.0,140.0 212.5,140.0Q200.0,140.0 196.5,133.0Z" fill="#ffa060"/>
<path d="M200.0,160.0Q200.0,150.0 220.0,145.0Q240.0,140.0 270.0,135.0Q300.0,130.0 325.0,130.0Q350.0,130.0 350.0,157.5Q350.0,185.0 325.0,185.0Q300.0,185.0 270.0,180.0Q240.0,175.0 220.0,172.5Q200.0,170.0 200.0,160.0Z" fill="#ffff80"/>
<path d="M210.4,157.2Q210.4,156.3 212.2,151.2Q214.0,146.0 221.0,143.0Q228.0,140.0 236.8,137.5Q245.6,135.0 256.7,133.5Q267.8,132.0 275.2,131.2Q282.6,130.4 291.8,129.4Q301.0,128.5 310.3,128.5Q319.6,128.5 327.0,130.3Q334.4,132.2 342.2,133.1Q350.0,134.0 350.0,142.0Q350.0,150.0 346.9,160.5Q343.7,171.0 337.2,174.8Q330.7,178.5 315.9,178.5Q301.0,178.5 287.1,176.7Q273.3,174.8 259.4,172.1Q245.6,169.3 231.7,166.5Q217.8,163.7 214.1,160.8Q210.4,158.0 210.4,157.2Z" fill="#c8e6fa"/>
<path d="M309.0,138.0Q308.0,134.0 329.0,134.0Q350.0,134.0 350.0,139.5Q350.0,145.0 342.5,147.5Q335.0,150.0 327.5,150.0Q320.0,150.0 315.0,146.0Q310.0,142.0 309.0,138.0Z" fill="#a8f8a8"/>
<path d="M325.0,148.5Q325.0,143.0 337.5,143.0Q350.0,143.0 350.0,148.5Q350.0,154.0 337.5,154.0Q325.0,154.0 325.0,148.5Z" fill="#ffff80"/>
<path d="M221.4,158.9Q219.6,156.0 224.8,152.0Q230.0,148.0 235.0,146.0Q240.0,144.0 247.4,141.5Q254.8,139.0 264.1,136.8Q273.3,134.5 279.8,134.3Q286.3,134.1 293.6,135.1Q301.0,136.0 308.5,141.5Q316.0,147.0 323.4,152.6Q330.7,158.1 334.4,162.8Q338.1,167.4 335.4,170.2Q332.6,173.0 326.1,173.4Q319.6,173.9 310.3,173.9Q301.0,173.9 287.1,171.6Q273.3,169.3 259.4,167.4Q245.6,165.6 234.4,163.8Q223.3,161.9 221.4,158.9Z" fill="#5fc8f8"/>
<path d="M235.4,158.2Q234.4,156.3 240.0,154.0Q245.6,151.7 252.1,150.8Q258.5,149.8 261.2,153.1Q264.0,156.3 267.8,160.9Q271.5,165.6 267.8,166.1Q264.0,166.5 254.8,164.2Q245.6,161.9 240.9,160.9Q236.3,160.0 235.4,158.2Z" fill="#5596e6"/>
<path d="M282.1,157.2Q282.6,154.4 288.1,153.9Q293.7,153.5 301.1,153.9Q308.5,154.4 310.4,157.2Q312.2,160.0 306.6,160.9Q301.0,161.9 293.6,162.4Q286.3,162.8 284.0,161.4Q281.7,160.0 282.1,157.2Z" fill="#5596e6"/>
<path d="M306.7,165.6Q306.7,162.8 312.2,162.8Q317.8,162.8 317.8,165.6Q317.8,168.3 312.2,168.3Q306.7,168.3 306.7,165.6Z" fill="#5596e6"/>
<path d="M190.0,172.0Q190.0,168.0 215.0,169.0Q240.0,170.0 270.0,174.0Q300.0,178.0 320.0,179.0Q340.0,180.0 345.0,182.5Q350.0,185.0 345.0,186.5Q340.0,188.0 320.0,187.0Q300.0,186.0 275.0,183.0Q250.0,180.0 220.0,178.0Q190.0,176.0 190.0,172.0Z" fill="#a8f8a8"/>
<path d="M189.0,185.0Q188.0,170.0 201.5,168.5Q215.0,167.0 225.0,167.0Q235.0,167.0 241.5,169.5Q248.0,172.0 249.0,178.5Q250.0,185.0 249.0,191.5Q248.0,198.0 241.5,199.0Q235.0,200.0 228.5,199.0Q222.0,198.0 213.5,200.0Q205.0,202.0 197.5,201.0Q190.0,200.0 189.0,185.0Z" fill="#ffa060"/>
<path d="M262.0,190.0Q262.0,180.0 272.2,179.4Q282.4,178.8 295.2,180.6Q308.0,182.4 321.7,185.2Q335.4,188.0 340.2,189.0Q345.0,190.0 341.5,195.0Q338.0,200.0 329.0,202.5Q320.0,205.0 310.0,205.5Q300.0,206.0 290.0,204.5Q280.0,203.0 271.0,201.5Q262.0,200.0 262.0,190.0Z" fill="#ffa060"/>
<path d="M247.0,184.0Q246.0,178.0 252.3,178.4Q258.6,178.8 270.5,178.8Q282.4,178.8 291.2,179.9Q300.0,181.0 295.0,185.5Q290.0,190.0 275.0,191.0Q260.0,192.0 254.0,191.0Q248.0,190.0 247.0,184.0Z" fill="#ffa060"/>
<path d="M330.0,141.5Q330.0,133.0 365.0,134.5Q400.0,136.0 400.0,141.0Q400.0,146.0 380.0,147.0Q360.0,148.0 345.0,149.0Q330.0,150.0 330.0,141.5Z" fill="#c8e6fa"/>
<path d="M349.0,139.0Q348.0,135.0 371.5,135.5Q395.0,136.0 395.0,139.0Q395.0,142.0 372.5,142.5Q350.0,143.0 349.0,139.0Z" fill="#5fc8f8"/>
<path d="M330.0,159.0Q330.0,148.0 350.0,147.0Q370.0,146.0 385.0,145.0Q400.0,144.0 410.0,147.0Q420.0,150.0 420.0,155.0Q420.0,160.0 410.0,161.5Q400.0,163.0 390.0,161.5Q380.0,160.0 370.0,162.5Q360.0,165.0 352.5,167.5Q345.0,170.0 337.5,170.0Q330.0,170.0 330.0,159.0Z" fill="#a8f8a8"/>
<path d="M357.5,150.5Q355.0,148.0 363.5,147.5Q372.0,147.0 373.5,149.5Q375.0,152.0 367.5,152.5Q360.0,153.0 357.5,150.5Z" fill="#c8e6fa"/>
<path d="M400.0,149.0Q400.0,143.0 420.0,141.5Q440.0,140.0 455.0,141.5Q470.0,143.0 478.0,146.5Q486.0,150.0 483.0,155.0Q480.0,160.0 467.5,161.5Q455.0,163.0 442.5,162.5Q430.0,162.0 420.0,161.0Q410.0,160.0 405.0,157.5Q400.0,155.0 400.0,149.0Z" fill="#ffe4a0"/>
<path d="M415.0,152.2Q415.0,149.0 421.5,149.0Q428.0,149.0 428.0,152.2Q428.0,155.5 421.5,155.5Q415.0,155.5 415.0,152.2Z" fill="#ffa060"/>
<path d="M435.2,145.8Q435.0,142.6 441.8,142.6Q448.5,142.6 448.5,145.8Q448.5,149.0 442.0,149.0Q435.5,149.0 435.2,145.8Z" fill="#ffa060"/>
<path d="M452.5,152.5Q450.0,147.0 459.5,146.5Q469.0,146.0 469.5,150.5Q470.0,155.0 462.5,156.5Q455.0,158.0 452.5,152.5Z" fill="#ffa060"/>
<path d="M363.0,168.5Q363.0,165.0 370.5,165.0Q378.0,165.0 378.0,168.5Q378.0,172.0 370.5,172.0Q363.0,172.0 363.0,168.5Z" fill="#ffa060"/>
<path d="M424.0,166.5Q424.0,158.0 434.5,156.5Q445.0,155.0 445.0,162.5Q445.0,170.0 437.5,176.0Q430.0,182.0 427.0,178.5Q424.0,175.0 424.0,166.5Z" fill="#ffff80"/>
<path d="M341.0,184.5Q341.0,174.0 353.0,173.0Q365.0,172.0 370.0,178.5Q375.0,185.0 367.5,190.0Q360.0,195.0 350.5,195.0Q341.0,195.0 341.0,184.5Z" fill="#a8f8a8"/>
<path d="M330.0,166.5Q330.0,159.0 335.5,159.0Q341.0,159.0 341.0,166.5Q341.0,174.0 335.5,174.0Q330.0,174.0 330.0,166.5Z" fill="#5fc8f8"/>
<path d="M243.0,206.5Q242.0,203.0 249.0,200.0Q256.0,197.0 259.0,194.0Q262.0,191.0 267.0,188.0Q272.0,185.0 281.0,187.5Q290.0,190.0 300.0,192.5Q310.0,195.0 322.5,192.5Q335.0,190.0 340.0,190.0Q345.0,190.0 342.5,195.0Q340.0,200.0 335.0,202.5Q330.0,205.0 325.0,208.5Q320.0,212.0 310.0,212.0Q300.0,212.0 290.0,213.0Q280.0,214.0 272.5,216.0Q265.0,218.0 257.5,217.0Q250.0,216.0 247.0,213.0Q244.0,210.0 243.0,206.5Z" fill="#ffa060"/>
<path d="M230.0,174.0Q230.0,170.0 265.0,172.5Q300.0,175.0 320.0,176.5Q340.0,178.0 340.0,180.5Q340.0,183.0 320.0,182.0Q300.0,181.0 280.0,179.5Q260.0,178.0 245.0,178.0Q230.0,178.0 230.0,174.0Z" fill="#ffff80"/>
<path d="M340.5,184.5Q341.0,179.0 348.5,177.5Q356.0,176.0 364.0,181.0Q372.0,186.0 375.0,187.0Q378.0,188.0 375.0,193.0Q372.0,198.0 364.0,202.5Q356.0,207.0 350.0,208.5Q344.0,210.0 340.0,205.0Q336.0,200.0 338.0,195.0Q340.0,190.0 340.5,184.5Z" fill="#a8f8a8"/>
<path d="M281.0,216.0Q280.0,210.0 290.0,210.5Q300.0,211.0 310.0,211.5Q320.0,212.0 325.0,213.5Q330.0,215.0 334.0,214.5Q338.0,214.0 341.5,213.0Q345.0,212.0 346.5,217.0Q348.0,222.0 339.0,224.0Q330.0,226.0 320.0,226.0Q310.0,226.0 302.5,224.0Q295.0,222.0 288.5,222.0Q282.0,222.0 281.0,216.0Z" fill="#ffff80"/>
<path d="M258.0,223.0Q254.0,218.0 262.0,220.0Q270.0,222.0 280.0,223.5Q290.0,225.0 293.0,228.5Q296.0,232.0 288.0,232.0Q280.0,232.0 271.0,230.0Q262.0,228.0 258.0,223.0Z" fill="#ffe4a0"/>
<path d="M300.0,235.5Q300.0,226.0 310.0,226.0Q320.0,226.0 330.0,224.0Q340.0,222.0 344.0,223.0Q348.0,224.0 346.5,228.0Q345.0,232.0 341.5,236.0Q338.0,240.0 331.5,243.0Q325.0,246.0 320.0,247.0Q315.0,248.0 307.5,246.5Q300.0,245.0 300.0,235.5Z" fill="#ffa060"/>
<path d="M297.0,245.0Q296.0,240.0 305.5,242.0Q315.0,244.0 318.5,247.0Q322.0,250.0 321.0,256.0Q320.0,262.0 316.0,265.0Q312.0,268.0 307.0,265.0Q302.0,262.0 300.0,256.0Q298.0,250.0 297.0,245.0Z" fill="#ffa060"/>
<path d="M297.0,255.0Q296.0,248.0 301.0,248.0Q306.0,248.0 306.0,255.0Q306.0,262.0 302.0,262.0Q298.0,262.0 297.0,255.0Z" fill="#ffe4a0"/>
<path d="M230.0,214.5Q230.0,207.0 236.0,206.5Q242.0,206.0 246.0,210.5Q250.0,215.0 250.0,220.0Q250.0,225.0 245.0,225.5Q240.0,226.0 235.0,224.0Q230.0,222.0 230.0,214.5Z" fill="#a8f8a8"/>
<path d="M230.0,227.0Q230.0,222.0 246.0,223.0Q262.0,224.0 273.5,227.0Q285.0,230.0 288.5,236.0Q292.0,242.0 283.5,244.0Q275.0,246.0 262.5,246.0Q250.0,246.0 242.5,243.0Q235.0,240.0 232.5,236.0Q230.0,232.0 230.0,227.0Z" fill="#a8f8a8"/>
<path d="M246.5,255.0Q245.0,246.0 254.0,246.0Q263.0,246.0 264.0,252.0Q265.0,258.0 261.5,262.0Q258.0,266.0 253.0,265.0Q248.0,264.0 246.5,255.0Z" fill="#ffe4a0"/>
<path d="M247.7,254.4Q247.7,252.7 250.6,252.7Q253.6,252.7 253.6,254.4Q253.6,256.2 250.6,256.2Q247.7,256.2 247.7,254.4Z" fill="#ffa060"/>
<path d="M245.3,263.3Q245.3,261.0 247.7,261.0Q250.0,261.0 250.0,263.3Q250.0,265.6 247.7,265.6Q245.3,265.6 245.3,263.3Z" fill="#ffa060"/>
<path d="M283.0,241.0Q283.0,236.0 287.5,236.0Q292.0,236.0 292.0,241.0Q292.0,246.0 287.5,246.0Q283.0,246.0 283.0,241.0Z" fill="#a8f8a8"/>
<path d="M262.0,256.0Q262.0,250.0 268.5,250.0Q275.0,250.0 275.0,256.0Q275.0,262.0 268.5,262.0Q262.0,262.0 262.0,256.0Z" fill="#ffff80"/>
<path d="M349.0,216.0Q348.0,210.0 353.0,209.0Q358.0,208.0 357.0,215.0Q356.0,222.0 353.0,222.0Q350.0,222.0 349.0,216.0Z" fill="#ffe4a0"/>
<path d="M366.5,229.5Q364.0,228.0 365.5,221.0Q367.0,214.0 370.5,210.5Q374.0,207.0 378.5,204.8Q383.0,202.5 385.5,200.0Q388.0,197.5 390.0,195.0Q392.0,192.5 396.0,191.2Q400.0,190.0 404.0,191.0Q408.0,192.0 407.0,198.0Q406.0,204.0 401.5,207.5Q397.0,211.0 392.0,215.0Q387.0,219.0 382.0,222.5Q377.0,226.0 373.0,228.5Q369.0,231.0 366.5,229.5Z" fill="#ffa060"/>
<path d="M280.0,117.5Q280.0,110.0 300.0,110.0Q320.0,110.0 320.0,117.5Q320.0,125.0 300.0,125.0Q280.0,125.0 280.0,117.5Z" fill="#a8f8a8"/>
<path d="M380.0,135.0Q380.0,130.0 400.0,130.0Q420.0,130.0 420.0,135.0Q420.0,140.0 400.0,140.0Q380.0,140.0 380.0,135.0Z" fill="#5fc8f8"/>
<path d="M246.0,192.0Q246.0,184.0 254.0,184.5Q262.0,185.0 262.0,192.5Q262.0,200.0 254.0,200.0Q246.0,200.0 246.0,192.0Z" fill="#ffa060"/>
<path d="M202.5,210.0Q200.0,204.0 212.5,203.5Q225.0,203.0 231.0,204.5Q237.0,206.0 237.0,211.0Q237.0,216.0 229.5,217.0Q222.0,218.0 213.5,217.0Q205.0,216.0 202.5,210.0Z" fill="#a8f8a8"/>
<path d="M208.0,210.0Q208.0,207.0 213.0,207.0Q218.0,207.0 218.0,210.0Q218.0,213.0 213.0,213.0Q208.0,213.0 208.0,210.0Z" fill="#ffff80"/>
<path d="M226.0,217.0Q226.0,206.0 238.0,208.0Q250.0,210.0 251.0,223.0Q252.0,236.0 245.0,236.0Q238.0,236.0 232.0,232.0Q226.0,228.0 226.0,217.0Z" fill="#a8f8a8"/>
<path d="M232.0,216.0Q232.0,214.0 234.0,214.0Q236.0,214.0 236.0,216.0Q236.0,218.0 234.0,218.0Q232.0,218.0 232.0,216.0Z" fill="#c8e6fa"/>
<path d="M188.5,241.0Q188.0,236.0 194.0,236.0Q200.0,236.0 200.5,241.0Q201.0,246.0 195.0,246.0Q189.0,246.0 188.5,241.0Z" fill="#c8e6fa"/>
<path d="M190.0,241.0Q190.0,239.0 192.5,239.0Q195.0,239.0 195.0,241.0Q195.0,243.0 192.5,243.0Q190.0,243.0 190.0,241.0Z" fill="#5fc8f8"/>
<path d="M197.0,218.0Q196.0,214.0 203.0,215.0Q210.0,216.0 211.0,219.0Q212.0,222.0 205.0,222.0Q198.0,222.0 197.0,218.0Z" fill="#a8f8a8"/>
<path d="M168.0,245.0Q168.0,240.0 186.5,241.0Q205.0,242.0 207.5,247.0Q210.0,252.0 200.0,252.0Q190.0,252.0 179.0,251.0Q168.0,250.0 168.0,245.0Z" fill="#a8f8a8"/>
<path d="M195.0,255.0Q195.0,252.0 201.5,252.0Q208.0,252.0 208.0,255.0Q208.0,258.0 201.5,258.0Q195.0,258.0 195.0,255.0Z" fill="#ffe4a0"/>
<path d="M77.0,217.0Q77.0,212.0 88.5,212.0Q100.0,212.0 115.0,213.0Q130.0,214.0 140.5,215.0Q151.0,216.0 151.5,221.0Q152.0,226.0 136.0,226.0Q120.0,226.0 105.0,225.0Q90.0,224.0 83.5,223.0Q77.0,222.0 77.0,217.0Z" fill="#ffe4a0"/>
<path d="M77.0,245.0Q77.0,222.0 86.0,222.0Q95.0,222.0 93.5,226.0Q92.0,230.0 90.0,246.0Q88.0,262.0 94.0,265.0Q100.0,268.0 88.5,268.0Q77.0,268.0 77.0,245.0Z" fill="#a8f8a8"/>
<path d="M86.0,237.0Q86.0,224.0 119.0,224.0Q152.0,224.0 156.0,228.0Q160.0,232.0 160.0,249.0Q160.0,266.0 155.0,268.0Q150.0,270.0 130.0,270.0Q110.0,270.0 100.0,269.0Q90.0,268.0 88.0,259.0Q86.0,250.0 86.0,237.0Z" fill="#a8f8a8"/>
<path d="M90.0,242.0Q90.0,226.0 124.0,226.0Q158.0,226.0 158.0,244.0Q158.0,262.0 154.0,264.5Q150.0,267.0 135.0,265.5Q120.0,264.0 107.5,265.0Q95.0,266.0 92.5,262.0Q90.0,258.0 90.0,242.0Z" fill="#c8e6fa"/>
<path d="M94.0,241.0Q94.0,232.0 103.0,230.0Q112.0,228.0 118.0,231.0Q124.0,234.0 128.0,236.0Q132.0,238.0 137.0,237.0Q142.0,236.0 147.0,238.0Q152.0,240.0 153.5,245.0Q155.0,250.0 155.0,256.5Q155.0,263.0 148.0,263.0Q141.0,263.0 131.5,261.0Q122.0,259.0 119.0,256.0Q116.0,253.0 108.0,253.5Q100.0,254.0 97.0,252.0Q94.0,250.0 94.0,241.0Z" fill="#5fc8f8"/>
<path d="M77.0,281.0Q77.0,262.0 88.5,264.0Q100.0,266.0 115.0,266.0Q130.0,266.0 140.0,267.0Q150.0,268.0 155.0,269.0Q160.0,270.0 160.0,285.0Q160.0,300.0 118.5,300.0Q77.0,300.0 77.0,281.0Z" fill="#ffff80"/>
<path d="M93.0,278.5Q93.0,272.0 104.0,271.0Q115.0,270.0 123.5,274.0Q132.0,278.0 141.0,280.0Q150.0,282.0 150.0,289.0Q150.0,296.0 125.0,296.0Q100.0,296.0 96.5,290.5Q93.0,285.0 93.0,278.5Z" fill="#ffe4a0"/>
<path d="M118.0,280.0Q118.0,276.0 123.0,276.0Q128.0,276.0 128.0,280.0Q128.0,284.0 123.0,284.0Q118.0,284.0 118.0,280.0Z" fill="#ffff80"/>
<path d="M112.5,266.0Q110.0,262.0 130.0,262.0Q150.0,262.0 154.0,265.0Q158.0,268.0 149.0,270.0Q140.0,272.0 127.5,271.0Q115.0,270.0 112.5,266.0Z" fill="#a8f8a8"/>
<path d="M101.0,288.3Q101.0,284.0 104.8,284.0Q108.5,284.0 108.5,288.3Q108.5,292.6 104.8,292.6Q101.0,292.6 101.0,288.3Z" fill="#ffa060"/>
<path d="M149.0,272.8Q149.0,268.5 152.8,268.5Q156.6,268.5 156.6,272.8Q156.6,277.0 152.8,277.0Q149.0,277.0 149.0,272.8Z" fill="#ffa060"/>
<path d="M151.5,266.5Q151.0,261.0 169.5,261.0Q188.0,261.0 188.0,274.0Q188.0,287.0 179.0,288.5Q170.0,290.0 165.0,286.0Q160.0,282.0 156.0,277.0Q152.0,272.0 151.5,266.5Z" fill="#a8f8a8"/>
<path d="M162.0,268.9Q162.0,265.7 169.5,265.7Q177.0,265.7 177.0,268.9Q177.0,272.0 169.5,272.0Q162.0,272.0 162.0,268.9Z" fill="#c8e6fa"/>
<path d="M160.0,279.5Q160.0,276.0 164.0,276.0Q168.0,276.0 168.0,279.5Q168.0,283.0 164.0,283.0Q160.0,283.0 160.0,279.5Z" fill="#c8e6fa"/>
<path d="M158.0,302.5Q158.0,285.0 168.0,285.0Q178.0,285.0 178.0,302.5Q178.0,320.0 168.0,320.0Q158.0,320.0 158.0,302.5Z" fill="#ffff80"/>
<path d="M104.0,313.0Q104.0,296.0 114.5,295.0Q125.0,294.0 142.5,295.0Q160.0,296.0 160.0,313.0Q160.0,330.0 132.0,330.0Q104.0,330.0 104.0,313.0Z" fill="#ffff80"/>
<path d="M123.2,299.1Q125.1,296.3 128.8,297.2Q132.6,298.1 135.3,301.9Q138.1,305.6 142.8,308.4Q147.4,311.1 151.1,313.9Q154.8,316.7 156.7,320.4Q158.5,324.1 156.7,327.8Q154.8,331.5 151.1,332.4Q147.4,333.3 143.7,330.6Q140.0,327.8 133.5,326.0Q127.0,324.1 123.3,318.6Q119.6,313.0 120.5,307.4Q121.4,301.9 123.2,299.1Z" fill="#ffa060"/>
<path d="M100.0,327.0Q100.0,320.0 111.5,320.0Q123.0,320.0 123.0,327.0Q123.0,334.0 116.5,337.0Q110.0,340.0 105.0,337.0Q100.0,334.0 100.0,327.0Z" fill="#a8f8a8"/>
<path d="M104.0,339.5Q104.0,334.0 113.5,334.0Q123.0,334.0 126.5,333.5Q130.0,333.0 140.5,333.0Q151.0,333.0 153.0,339.0Q155.0,345.0 147.5,352.5Q140.0,360.0 132.5,362.5Q125.0,365.0 118.5,362.5Q112.0,360.0 108.0,352.5Q104.0,345.0 104.0,339.5Z" fill="#ffff80"/>
<path d="M125.0,339.5Q125.0,334.0 135.0,334.0Q145.0,334.0 147.5,339.5Q150.0,345.0 142.5,347.5Q135.0,350.0 130.0,347.5Q125.0,345.0 125.0,339.5Z" fill="#ffe4a0"/>
<path d="M109.0,349.5Q108.0,345.0 113.0,343.5Q118.0,342.0 119.0,347.0Q120.0,352.0 115.0,353.0Q110.0,354.0 109.0,349.5Z" fill="#a8f8a8"/>
<path d="M113.0,352.5Q113.0,350.0 115.0,350.0Q117.0,350.0 117.0,352.5Q117.0,355.0 115.0,355.0Q113.0,355.0 113.0,352.5Z" fill="#ffa060"/>
<path d="M116.0,355.0Q116.0,348.0 123.3,348.0Q130.7,348.0 130.7,355.0Q130.7,362.0 123.3,362.0Q116.0,362.0 116.0,355.0Z" fill="#c8e6fa"/>
<path d="M149.0,337.8Q149.0,333.0 152.8,333.0Q156.6,333.0 156.6,337.8Q156.6,342.6 152.8,342.6Q149.0,342.6 149.0,337.8Z" fill="#ffa060"/>
<path d="M172.0,327.5Q172.0,310.0 182.0,310.0Q192.0,310.0 192.0,327.5Q192.0,345.0 182.0,345.0Q172.0,345.0 172.0,327.5Z" fill="#ffe4a0"/>
<path d="M158.0,303.5Q156.0,295.0 162.0,295.0Q168.0,295.0 169.0,302.5Q170.0,310.0 165.0,311.0Q160.0,312.0 158.0,303.5Z" fill="#a8f8a8"/>
<path d="M140.0,289.0Q140.0,286.0 145.0,286.0Q150.0,286.0 150.0,289.0Q150.0,292.0 145.0,292.0Q140.0,292.0 140.0,289.0Z" fill="#a8f8a8"/>
<path d="M330.0,342.0Q330.0,312.0 377.5,312.0Q425.0,312.0 425.0,342.0Q425.0,372.0 377.5,372.0Q330.0,372.0 330.0,342.0Z" fill="#a8f8a8"/>
<path d="M330.0,346.0Q330.0,330.0 336.0,330.0Q342.0,330.0 343.5,346.0Q345.0,362.0 337.5,362.0Q330.0,362.0 330.0,346.0Z" fill="#c8e6fa"/>
<path d="M336.5,354.2Q336.5,349.0 340.6,349.0Q344.8,349.0 344.8,354.2Q344.8,359.5 340.6,359.5Q336.5,359.5 336.5,354.2Z" fill="#5fc8f8"/>
<path d="M354.0,329.0Q352.0,322.0 365.0,321.0Q378.0,320.0 389.0,321.0Q400.0,322.0 404.0,326.0Q408.0,330.0 406.0,335.0Q404.0,340.0 398.0,342.0Q392.0,344.0 386.0,343.5Q380.0,343.0 375.0,341.5Q370.0,340.0 363.0,338.0Q356.0,336.0 354.0,329.0Z" fill="#c8e6fa"/>
<path d="M339.5,342.5Q339.0,333.0 349.5,332.0Q360.0,331.0 370.0,333.5Q380.0,336.0 382.0,343.0Q384.0,350.0 377.0,353.5Q370.0,357.0 360.0,357.0Q350.0,357.0 345.0,354.5Q340.0,352.0 339.5,342.5Z" fill="#ffe4a0"/>
<path d="M341.5,341.0Q341.0,337.0 344.5,336.0Q348.0,335.0 352.0,336.5Q356.0,338.0 359.0,337.0Q362.0,336.0 364.0,338.0Q366.0,340.0 365.5,344.5Q365.0,349.0 361.0,348.5Q357.0,348.0 353.0,348.0Q349.0,348.0 345.5,346.5Q342.0,345.0 341.5,341.0Z" fill="#ffa060"/>
<path d="M357.3,331.5Q357.3,329.0 361.6,328.5Q366.0,328.0 370.4,329.5Q374.9,331.0 374.4,334.1Q374.0,337.3 368.0,336.6Q362.0,336.0 359.6,335.0Q357.3,334.0 357.3,331.5Z" fill="#5fc8f8"/>
<path d="M382.3,334.0Q381.6,330.0 384.8,330.0Q388.0,330.0 390.2,333.0Q392.4,336.0 391.2,338.0Q390.0,340.0 386.5,339.0Q383.0,338.0 382.3,334.0Z" fill="#5fc8f8"/>
<path d="M393.2,330.3Q392.4,326.6 395.7,326.8Q399.0,327.0 399.0,330.8Q399.0,334.6 396.5,334.3Q394.0,334.0 393.2,330.3Z" fill="#5fc8f8"/>
<path d="M379.0,339.4Q379.0,336.0 382.3,336.0Q385.6,336.0 385.6,339.4Q385.6,342.7 382.3,342.7Q379.0,342.7 379.0,339.4Z" fill="#ffff80"/>
<path d="M385.0,348.0Q384.0,344.0 391.0,342.0Q398.0,340.0 405.0,341.0Q412.0,342.0 416.0,344.0Q420.0,346.0 420.0,357.0Q420.0,368.0 412.5,369.0Q405.0,370.0 397.5,367.0Q390.0,364.0 388.0,358.0Q386.0,352.0 385.0,348.0Z" fill="#c8e6fa"/>
<path d="M394.0,357.0Q392.0,352.0 397.0,351.0Q402.0,350.0 403.5,354.0Q405.0,358.0 400.5,360.0Q396.0,362.0 394.0,357.0Z" fill="#a8f8a8"/>
<path d="M405.9,348.8Q405.9,345.4 409.2,345.4Q412.6,345.4 412.6,348.8Q412.6,352.2 409.2,352.2Q405.9,352.2 405.9,348.8Z" fill="#5fc8f8"/>
<path d="M405.9,363.0Q405.9,359.0 409.2,359.0Q412.6,359.0 412.6,363.0Q412.6,367.0 409.2,367.0Q405.9,367.0 405.9,363.0Z" fill="#5fc8f8"/>
<path d="M412.0,343.0Q410.0,336.0 415.0,337.0Q420.0,338.0 420.5,345.0Q421.0,352.0 417.5,351.0Q414.0,350.0 412.0,343.0Z" fill="#ffff80"/>
<path d="M399.0,317.0Q398.0,312.0 401.0,312.0Q404.0,312.0 405.0,317.0Q406.0,322.0 403.0,322.0Q400.0,322.0 399.0,317.0Z" fill="#ffff80"/>
<path d="M398.0,378.5Q398.0,372.0 405.0,372.0Q412.0,372.0 412.0,378.5Q412.0,385.0 405.0,385.0Q398.0,385.0 398.0,378.5Z" fill="#a8f8a8"/>
<path d="M370.0,301.0Q370.0,290.0 395.0,290.0Q420.0,290.0 420.0,301.0Q420.0,312.0 395.0,312.0Q370.0,312.0 370.0,301.0Z" fill="#ffff80"/>
<path d="M378.5,299.0Q375.0,292.0 383.5,293.0Q392.0,294.0 394.0,300.0Q396.0,306.0 389.0,306.0Q382.0,306.0 378.5,299.0Z" fill="#ffe4a0"/>
<path d="M392.0,299.5Q392.0,295.0 397.2,295.0Q402.5,295.0 402.5,299.5Q402.5,304.0 397.2,304.0Q392.0,304.0 392.0,299.5Z" fill="#c8e6fa"/>
<path d="M395.0,299.0Q395.0,297.0 397.5,297.0Q400.0,297.0 400.0,299.0Q400.0,301.0 397.5,301.0Q395.0,301.0 395.0,299.0Z" fill="#5fc8f8"/>
<path d="M374.0,292.5Q374.0,291.0 376.0,291.0Q378.0,291.0 378.0,292.5Q378.0,294.0 376.0,294.0Q374.0,294.0 374.0,292.5Z" fill="#f06480"/>
<path d="M296.0,280.0Q296.0,275.0 307.0,280.0Q318.0,285.0 319.0,292.5Q320.0,300.0 312.5,300.0Q305.0,300.0 300.5,292.5Q296.0,285.0 296.0,280.0Z" fill="#ffe4a0"/>
<path d="M300.0,289.0Q300.0,286.0 303.0,286.0Q306.0,286.0 306.0,289.0Q306.0,292.0 303.0,292.0Q300.0,292.0 300.0,289.0Z" fill="#ffa060"/>
<path d="M378.0,352.5Q376.0,343.0 385.5,344.0Q395.0,345.0 396.5,352.5Q398.0,360.0 389.0,361.0Q380.0,362.0 378.0,352.5Z" fill="#a8f8a8"/>
<path d="M365.0,356.0Q365.0,352.0 372.5,352.0Q380.0,352.0 380.0,356.0Q380.0,360.0 372.5,360.0Q365.0,360.0 365.0,356.0Z" fill="#a8f8a8"/>
<path d="M515.0,155.0Q515.0,140.0 557.5,140.0Q600.0,140.0 600.0,155.0Q600.0,170.0 557.5,170.0Q515.0,170.0 515.0,155.0Z" fill="#a8f8a8"/>
<path d="M524.7,144.1Q524.7,141.2 561.2,141.2Q597.7,141.2 597.7,145.9Q597.7,150.6 578.9,149.8Q560.0,149.0 542.4,148.0Q524.7,147.0 524.7,144.1Z" fill="#5fc8f8"/>
<path d="M586.0,142.5Q586.0,135.0 653.0,135.0Q720.0,135.0 720.0,160.5Q720.0,186.0 700.0,185.5Q680.0,185.0 660.0,185.5Q640.0,186.0 625.0,184.0Q610.0,182.0 600.0,176.0Q590.0,170.0 588.0,160.0Q586.0,150.0 586.0,142.5Z" fill="#c8e6fa"/>
<path d="M590.7,147.2Q590.7,144.8 604.9,142.4Q619.0,140.0 635.5,141.2Q652.0,142.4 668.5,144.8Q684.9,147.1 702.5,150.6Q720.0,154.2 720.0,165.9Q720.0,177.7 709.5,177.7Q699.0,177.7 686.0,177.7Q673.1,177.7 662.5,179.5Q652.0,181.3 641.4,179.5Q630.7,177.7 622.5,174.2Q614.2,170.7 606.0,164.8Q597.7,158.9 594.2,154.2Q590.7,149.5 590.7,147.2Z" fill="#5fc8f8"/>
<path d="M604.8,150.6Q602.4,147.1 611.8,144.8Q621.3,142.4 631.9,143.6Q642.5,144.8 651.9,147.2Q661.3,149.5 670.8,151.8Q680.2,154.2 689.6,160.1Q699.0,166.0 694.3,170.7Q689.6,175.4 680.2,176.6Q670.8,177.7 661.4,176.6Q652.0,175.4 642.5,173.1Q633.1,170.7 626.0,165.9Q618.9,161.2 613.0,157.7Q607.2,154.2 604.8,150.6Z" fill="#5596e6"/>
<path d="M611.9,146.5Q609.5,142.4 620.1,141.2Q630.7,140.0 634.2,143.6Q637.8,147.1 633.1,148.8Q628.4,150.6 621.3,150.6Q614.2,150.6 611.9,146.5Z" fill="#4b4bf0"/>
<path d="M628.4,156.6Q628.4,154.2 636.6,154.2Q644.9,154.2 648.4,156.6Q651.9,158.9 646.0,160.1Q640.1,161.2 634.2,160.1Q628.4,158.9 628.4,156.6Z" fill="#4b4bf0"/>
<path d="M706.0,166.0Q706.0,160.0 714.0,159.0Q722.0,158.0 722.0,167.8Q722.0,177.7 714.0,174.8Q706.0,172.0 706.0,166.0Z" fill="#4b4bf0"/>
<path d="M604.8,129.0Q604.8,114.0 662.4,114.0Q720.0,114.0 720.0,130.5Q720.0,147.0 700.0,147.0Q680.0,147.0 660.0,143.5Q640.0,140.0 622.4,142.0Q604.8,144.0 604.8,129.0Z" fill="#5fc8f8"/>
<path d="M640.0,130.0Q640.0,125.0 670.0,123.5Q700.0,122.0 710.0,126.0Q720.0,130.0 720.0,140.0Q720.0,150.0 705.0,149.0Q690.0,148.0 675.0,144.0Q660.0,140.0 650.0,137.5Q640.0,135.0 640.0,130.0Z" fill="#5596e6"/>
<path d="M523.5,145.5Q520.0,141.0 561.5,141.0Q603.0,141.0 603.0,146.5Q603.0,152.0 581.5,152.0Q560.0,152.0 543.5,151.0Q527.0,150.0 523.5,145.5Z" fill="#5fc8f8"/>
<path d="M588.5,145.5Q587.0,141.0 613.5,141.0Q640.0,141.0 640.0,158.0Q640.0,175.0 632.5,176.5Q625.0,178.0 618.5,173.0Q612.0,168.0 606.0,163.0Q600.0,158.0 595.0,154.0Q590.0,150.0 588.5,145.5Z" fill="#5fc8f8"/>
<path d="M604.0,147.0Q603.0,144.0 621.5,144.0Q640.0,144.0 640.0,158.5Q640.0,173.0 635.0,172.5Q630.0,172.0 622.5,166.0Q615.0,160.0 610.0,155.0Q605.0,150.0 604.0,147.0Z" fill="#5596e6"/>
<path d="M591.0,155.5Q593.0,153.0 598.0,156.0Q603.0,159.0 608.0,163.0Q613.0,167.0 618.5,171.0Q624.0,175.0 632.0,176.0Q640.0,177.0 640.0,180.5Q640.0,184.0 630.0,183.5Q620.0,183.0 613.5,179.5Q607.0,176.0 602.0,171.0Q597.0,166.0 593.0,162.0Q589.0,158.0 591.0,155.5Z" fill="#c8e6fa"/>
<path d="M609.8,143.8Q609.6,139.5 622.3,139.8Q635.0,140.0 635.5,145.0Q636.0,150.0 628.0,151.0Q620.0,152.0 615.0,150.0Q610.0,148.0 609.8,143.8Z" fill="#4b4bf0"/>
<path d="M620.0,143.2Q620.0,141.0 626.0,141.0Q632.0,141.0 632.0,143.2Q632.0,145.5 626.0,145.5Q620.0,145.5 620.0,143.2Z" fill="#0a0ae6"/>
<path d="M630.5,155.8Q629.0,151.6 641.0,151.8Q653.0,152.0 652.5,156.3Q652.0,160.6 642.0,160.3Q632.0,160.0 630.5,155.8Z" fill="#4b4bf0"/>
<path d="M632.0,156.8Q632.0,154.5 638.0,154.5Q644.0,154.5 644.0,156.8Q644.0,159.0 638.0,159.0Q632.0,159.0 632.0,156.8Z" fill="#0a0ae6"/>
<path d="M580.0,159.0Q578.0,153.0 585.0,155.0Q592.0,157.0 598.0,163.5Q604.0,170.0 604.0,176.0Q604.0,182.0 598.0,179.0Q592.0,176.0 587.0,170.5Q582.0,165.0 580.0,159.0Z" fill="#ffff80"/>
<path d="M530.0,154.5Q530.0,149.0 538.2,149.0Q546.5,149.0 546.5,154.5Q546.5,160.0 538.2,160.0Q530.0,160.0 530.0,154.5Z" fill="#ffff80"/>
<path d="M559.0,155.5Q559.0,152.0 566.5,152.0Q574.0,152.0 574.0,155.5Q574.0,159.0 566.5,159.0Q559.0,159.0 559.0,155.5Z" fill="#ffff80"/>
<path d="M537.0,158.0Q537.0,156.0 540.0,156.0Q543.0,156.0 543.0,158.0Q543.0,160.0 540.0,160.0Q537.0,160.0 537.0,158.0Z" fill="#ffe4a0"/>
<path d="M601.0,175.0Q601.0,173.0 603.5,173.0Q606.0,173.0 606.0,175.0Q606.0,177.0 603.5,177.0Q601.0,177.0 601.0,175.0Z" fill="#5fc8f8"/>
<path d="M627.0,180.0Q627.0,178.0 629.5,178.0Q632.0,178.0 632.0,180.0Q632.0,182.0 629.5,182.0Q627.0,182.0 627.0,180.0Z" fill="#5fc8f8"/>
<path d="M597.5,176.0Q595.0,170.0 603.5,174.0Q612.0,178.0 621.0,179.0Q630.0,180.0 641.0,181.5Q652.0,183.0 666.0,181.5Q680.0,180.0 700.0,179.0Q720.0,178.0 720.0,185.0Q720.0,192.0 700.0,192.0Q680.0,192.0 660.0,192.0Q640.0,192.0 625.0,190.0Q610.0,188.0 605.0,185.0Q600.0,182.0 597.5,176.0Z" fill="#a8f8a8"/>
<path d="M600.0,211.0Q600.0,182.0 620.0,184.0Q640.0,186.0 640.0,213.0Q640.0,240.0 620.0,240.0Q600.0,240.0 600.0,211.0Z" fill="#ffff80"/>
<path d="M609.0,200.5Q608.0,186.0 624.0,186.0Q640.0,186.0 640.0,200.5Q640.0,215.0 625.0,215.0Q610.0,215.0 609.0,200.5Z" fill="#ffe4a0"/>
<path d="M623.6,192.5Q623.6,186.0 671.8,186.0Q720.0,186.0 720.0,192.5Q720.0,199.0 671.8,199.0Q623.6,199.0 623.6,192.5Z" fill="#ffe4a0"/>
<path d="M665.0,190.5Q660.0,186.0 675.0,187.0Q690.0,188.0 695.0,191.0Q700.0,194.0 685.0,194.5Q670.0,195.0 665.0,190.5Z" fill="#ffff80"/>
<path d="M607.0,183.5Q607.0,180.0 610.5,180.0Q614.0,180.0 614.0,183.5Q614.0,187.0 610.5,187.0Q607.0,187.0 607.0,183.5Z" fill="#ffa060"/>
<path d="M617.0,201.0Q616.0,196.0 621.0,196.0Q626.0,196.0 627.0,201.0Q628.0,206.0 623.0,206.0Q618.0,206.0 617.0,201.0Z" fill="#ffa060"/>
<path d="M621.0,219.0Q620.0,214.0 632.5,214.0Q645.0,214.0 648.5,221.0Q652.0,228.0 652.0,236.5Q652.0,245.0 646.0,245.0Q640.0,245.0 635.0,238.5Q630.0,232.0 626.0,228.0Q622.0,224.0 621.0,219.0Z" fill="#ffa060"/>
<path d="M638.5,205.0Q637.0,195.0 678.5,195.0Q720.0,195.0 720.0,217.5Q720.0,240.0 700.0,240.0Q680.0,240.0 666.0,234.0Q652.0,228.0 646.0,221.5Q640.0,215.0 638.5,205.0Z" fill="#ffa060"/>
<path d="M656.6,208.3Q656.6,203.6 663.7,203.6Q670.8,203.6 670.8,208.3Q670.8,213.0 663.7,213.0Q656.6,213.0 656.6,208.3Z" fill="#ff7850"/>
<path d="M648.0,232.0Q648.0,224.0 658.0,224.0Q668.0,224.0 668.0,232.0Q668.0,240.0 658.0,240.0Q648.0,240.0 648.0,232.0Z" fill="#a8f8a8"/>
<path d="M652.0,232.5Q652.0,227.0 657.9,227.0Q663.7,227.0 663.7,232.5Q663.7,238.0 657.9,238.0Q652.0,238.0 652.0,232.5Z" fill="#c8e6fa"/>
<path d="M655.0,232.0Q655.0,230.0 657.0,230.0Q659.0,230.0 659.0,232.0Q659.0,234.0 657.0,234.0Q655.0,234.0 655.0,232.0Z" fill="#5fc8f8"/>
<path d="M678.0,219.0Q676.0,214.0 688.0,214.0Q700.0,214.0 707.5,218.0Q715.0,222.0 707.5,224.0Q700.0,226.0 690.0,225.0Q680.0,224.0 678.0,219.0Z" fill="#ffe4a0"/>
<path d="M696.7,229.2Q696.7,222.5 701.4,222.5Q706.0,222.5 706.0,229.2Q706.0,236.0 701.4,236.0Q696.7,236.0 696.7,229.2Z" fill="#ffff80"/>
<path d="M720.0,121.0Q720.0,112.0 740.0,112.0Q760.0,112.0 760.0,121.0Q760.0,130.0 740.0,130.0Q720.0,130.0 720.0,121.0Z" fill="#c8e6fa"/>
<path d="M737.5,121.0Q735.0,115.0 747.5,115.0Q760.0,115.0 762.5,120.0Q765.0,125.0 752.5,126.0Q740.0,127.0 737.5,121.0Z" fill="#a8f8a8"/>
<path d="M747.5,116.0Q745.0,110.0 787.5,110.0Q830.0,110.0 835.0,114.0Q840.0,118.0 827.5,122.0Q815.0,126.0 797.5,125.0Q780.0,124.0 765.0,123.0Q750.0,122.0 747.5,116.0Z" fill="#ffff80"/>
<path d="M790.0,118.5Q780.0,114.0 797.5,113.5Q815.0,113.0 817.5,116.5Q820.0,120.0 810.0,121.5Q800.0,123.0 790.0,118.5Z" fill="#ffe4a0"/>
<path d="M753.5,128.5Q752.0,122.0 771.0,122.0Q790.0,122.0 801.0,126.0Q812.0,130.0 812.0,138.0Q812.0,146.0 803.5,148.0Q795.0,150.0 783.5,148.0Q772.0,146.0 763.5,140.5Q755.0,135.0 753.5,128.5Z" fill="#c8e6fa"/>
<path d="M758.0,128.5Q756.0,124.0 772.0,124.0Q788.0,124.0 797.0,128.0Q806.0,132.0 806.0,138.0Q806.0,144.0 799.0,145.0Q792.0,146.0 783.5,144.0Q775.0,142.0 767.5,137.5Q760.0,133.0 758.0,128.5Z" fill="#5fc8f8"/>
<path d="M780.5,136.0Q780.0,132.0 788.0,133.0Q796.0,134.0 798.5,137.0Q801.0,140.0 800.5,142.0Q800.0,144.0 794.0,144.0Q788.0,144.0 784.5,142.0Q781.0,140.0 780.5,136.0Z" fill="#5596e6"/>
<path d="M789.0,139.0Q788.0,135.5 793.0,136.2Q798.0,137.0 798.5,139.8Q799.0,142.5 794.5,142.5Q790.0,142.5 789.0,139.0Z" fill="#4b4bf0"/>
<path d="M806.5,128.5Q805.0,122.0 810.0,123.0Q815.0,124.0 816.5,132.0Q818.0,140.0 815.0,144.0Q812.0,148.0 808.5,147.0Q805.0,146.0 806.5,140.5Q808.0,135.0 806.5,128.5Z" fill="#a8f8a8"/>
<path d="M811.0,127.5Q810.0,120.0 816.0,121.0Q822.0,122.0 822.0,133.5Q822.0,145.0 818.5,146.5Q815.0,148.0 813.5,141.5Q812.0,135.0 811.0,127.5Z" fill="#ffff80"/>
<path d="M817.5,122.5Q815.0,113.0 830.0,113.0Q845.0,113.0 852.5,114.5Q860.0,116.0 852.5,128.0Q845.0,140.0 840.0,146.0Q835.0,152.0 826.5,152.0Q818.0,152.0 819.0,142.0Q820.0,132.0 817.5,122.5Z" fill="#ffa060"/>
<path d="M822.0,133.0Q822.0,122.0 831.0,121.0Q840.0,120.0 841.0,130.0Q842.0,140.0 837.0,143.0Q832.0,146.0 827.0,145.0Q822.0,144.0 822.0,133.0Z" fill="#ff7850"/>
<path d="M828.0,132.5Q828.0,125.0 835.5,124.0Q843.0,123.0 844.0,130.5Q845.0,138.0 840.5,140.5Q836.0,143.0 832.0,141.5Q828.0,140.0 828.0,132.5Z" fill="#f06480"/>
<path d="M759.4,139.7Q758.7,135.4 773.2,137.2Q787.7,139.0 788.9,142.5Q790.0,146.0 782.5,147.0Q775.0,148.0 767.5,146.0Q760.0,144.0 759.4,139.7Z" fill="#ffa060"/>
<path d="M764.2,146.8Q763.5,143.5 777.2,144.8Q791.0,146.0 790.5,150.5Q790.0,155.0 782.5,155.5Q775.0,156.0 770.0,153.0Q765.0,150.0 764.2,146.8Z" fill="#ffe4a0"/>
<path d="M771.0,153.5Q770.0,150.0 780.0,151.0Q790.0,152.0 790.0,154.5Q790.0,157.0 781.0,157.0Q772.0,157.0 771.0,153.5Z" fill="#ffff80"/>
<path d="M773.2,158.0Q773.2,153.0 780.5,153.0Q787.7,153.0 787.7,158.0Q787.7,163.0 780.5,163.0Q773.2,163.0 773.2,158.0Z" fill="#c8e6fa"/>
<path d="M778.0,157.0Q778.0,155.0 781.5,155.0Q785.0,155.0 785.0,157.0Q785.0,159.0 781.5,159.0Q778.0,159.0 778.0,157.0Z" fill="#5fc8f8"/>
<path d="M825.0,152.5Q825.0,148.0 840.0,148.0Q855.0,148.0 855.0,152.5Q855.0,157.0 840.0,157.0Q825.0,157.0 825.0,152.5Z" fill="#ffff80"/>
<path d="M835.0,152.0Q835.0,150.0 841.5,150.0Q848.0,150.0 848.0,152.0Q848.0,154.0 841.5,154.0Q835.0,154.0 835.0,152.0Z" fill="#a8f8a8"/>
<path d="M690.0,152.5Q690.0,120.0 707.5,120.0Q725.0,120.0 732.5,130.0Q740.0,140.0 745.0,150.0Q750.0,160.0 755.0,172.5Q760.0,185.0 725.0,185.0Q690.0,185.0 690.0,152.5Z" fill="#5fc8f8"/>
<path d="M701.0,132.0Q700.0,128.0 707.5,128.0Q715.0,128.0 716.5,132.0Q718.0,136.0 710.0,136.0Q702.0,136.0 701.0,132.0Z" fill="#c8e6fa"/>
<path d="M726.5,150.5Q725.0,145.0 734.5,146.5Q744.0,148.0 744.0,152.0Q744.0,156.0 736.0,156.0Q728.0,156.0 726.5,150.5Z" fill="#a8f8a8"/>
<path d="M719.0,143.0Q718.0,140.0 723.0,140.0Q728.0,140.0 730.0,143.0Q732.0,146.0 726.0,146.0Q720.0,146.0 719.0,143.0Z" fill="#c8e6fa"/>
<path d="M708.8,164.8Q708.8,159.0 720.6,159.0Q732.4,159.0 732.4,164.8Q732.4,170.7 720.6,170.7Q708.8,170.7 708.8,164.8Z" fill="#5596e6"/>
<path d="M711.0,162.5Q711.0,159.0 718.1,159.0Q725.3,159.0 725.3,162.5Q725.3,166.0 718.1,166.0Q711.0,166.0 711.0,162.5Z" fill="#4b4bf0"/>
<path d="M730.0,176.5Q730.0,173.0 737.1,173.0Q744.2,173.0 744.2,176.5Q744.2,180.0 737.1,180.0Q730.0,180.0 730.0,176.5Z" fill="#5596e6"/>
<path d="M690.0,188.3Q690.0,177.7 727.7,177.7Q765.4,177.7 765.4,188.3Q765.4,199.0 727.7,199.0Q690.0,199.0 690.0,188.3Z" fill="#a8f8a8"/>
<path d="M690.0,192.0Q690.0,185.0 715.0,186.5Q740.0,188.0 730.0,193.5Q720.0,199.0 705.0,199.0Q690.0,199.0 690.0,192.0Z" fill="#ffff80"/>
<path d="M690.0,210.5Q690.0,199.0 701.8,195.5Q713.6,192.0 716.8,196.0Q720.0,200.0 720.0,206.0Q720.0,212.0 713.0,217.0Q706.0,222.0 698.0,222.0Q690.0,222.0 690.0,210.5Z" fill="#ffa060"/>
<path d="M855.0,172.0Q855.0,160.0 872.5,160.0Q890.0,160.0 890.0,172.0Q890.0,184.0 872.5,184.0Q855.0,184.0 855.0,172.0Z" fill="#ffff80"/>
<path d="M862.0,197.3Q862.0,184.0 876.0,184.0Q890.0,184.0 890.0,197.3Q890.0,210.7 876.0,210.7Q862.0,210.7 862.0,197.3Z" fill="#ffa060"/>
<path d="M862.0,204.0Q862.0,197.0 872.5,197.0Q883.0,197.0 883.0,204.0Q883.0,211.0 872.5,211.0Q862.0,211.0 862.0,204.0Z" fill="#ff7850"/>
<path d="M845.0,227.5Q845.0,210.0 867.5,210.0Q890.0,210.0 890.0,227.5Q890.0,245.0 867.5,245.0Q845.0,245.0 845.0,227.5Z" fill="#ffff80"/>
<path d="M860.0,224.0Q860.0,218.0 867.5,218.0Q875.0,218.0 875.0,224.0Q875.0,230.0 867.5,230.0Q860.0,230.0 860.0,224.0Z" fill="#a8f8a8"/>
<path d="M845.0,262.5Q845.0,240.0 867.5,240.0Q890.0,240.0 890.0,262.5Q890.0,285.0 867.5,285.0Q845.0,285.0 845.0,262.5Z" fill="#a8f8a8"/>
<path d="M861.0,251.0Q861.0,243.0 875.5,243.0Q890.0,243.0 890.0,251.0Q890.0,259.0 875.5,259.0Q861.0,259.0 861.0,251.0Z" fill="#c8e6fa"/>
<path d="M850.0,267.0Q850.0,262.0 860.0,262.0Q870.0,262.0 870.0,267.0Q870.0,272.0 860.0,272.0Q850.0,272.0 850.0,267.0Z" fill="#ffff80"/>
<path d="M845.0,232.5Q845.0,225.0 851.5,225.0Q858.0,225.0 858.0,232.5Q858.0,240.0 851.5,240.0Q845.0,240.0 845.0,232.5Z" fill="#ffe4a0"/>
<path d="M642.5,244.0Q640.0,238.0 653.0,239.0Q666.0,240.0 666.0,245.0Q666.0,250.0 655.5,250.0Q645.0,250.0 642.5,244.0Z" fill="#ffe4a0"/>
<path d="M635.0,242.5Q630.0,235.0 639.0,237.5Q648.0,240.0 649.0,244.0Q650.0,248.0 645.0,249.0Q640.0,250.0 635.0,242.5Z" fill="#ffa060"/>
<path d="M664.0,259.0Q664.0,243.0 684.5,243.0Q705.0,243.0 705.0,259.0Q705.0,275.0 684.5,275.0Q664.0,275.0 664.0,259.0Z" fill="#a8f8a8"/>
<path d="M674.0,256.0Q672.0,250.0 681.0,251.0Q690.0,252.0 695.0,257.0Q700.0,262.0 695.0,266.0Q690.0,270.0 683.0,266.0Q676.0,262.0 674.0,256.0Z" fill="#ffff80"/>
<path d="M700.0,277.0Q700.0,262.0 737.5,262.0Q775.0,262.0 775.0,277.0Q775.0,292.0 737.5,292.0Q700.0,292.0 700.0,277.0Z" fill="#ffff80"/>
<path d="M735.0,271.5Q735.0,268.0 743.5,268.0Q752.0,268.0 752.0,271.5Q752.0,275.0 743.5,275.0Q735.0,275.0 735.0,271.5Z" fill="#ffe4a0"/>
<path d="M707.0,278.5Q706.0,266.0 720.0,266.0Q734.0,266.0 735.0,278.0Q736.0,290.0 722.0,290.5Q708.0,291.0 707.0,278.5Z" fill="#c8e6fa"/>
<path d="M708.0,283.5Q708.0,280.0 712.0,280.0Q716.0,280.0 716.0,283.5Q716.0,287.0 712.0,287.0Q708.0,287.0 708.0,283.5Z" fill="#5fc8f8"/>
<path d="M714.5,276.0Q715.0,272.0 721.5,271.0Q728.0,270.0 730.5,276.0Q733.0,282.0 732.0,285.0Q731.0,288.0 726.5,288.0Q722.0,288.0 718.0,284.0Q714.0,280.0 714.5,276.0Z" fill="#5596e6"/>
<path d="M714.5,272.0Q713.0,266.0 718.5,266.0Q724.0,266.0 727.5,272.5Q731.0,279.0 729.0,281.5Q727.0,284.0 721.5,281.0Q716.0,278.0 714.5,272.0Z" fill="#4b4bf0"/>
<path d="M712.5,269.0Q712.0,266.0 717.0,266.0Q722.0,266.0 724.5,270.5Q727.0,275.0 723.5,276.5Q720.0,278.0 716.5,275.0Q713.0,272.0 712.5,269.0Z" fill="#0a0ae6"/>
<path d="M704.0,290.0Q703.0,284.0 716.5,286.0Q730.0,288.0 750.5,286.0Q771.0,284.0 787.5,288.0Q804.0,292.0 804.0,301.5Q804.0,311.0 787.5,311.0Q771.0,311.0 755.5,308.5Q740.0,306.0 729.0,304.0Q718.0,302.0 711.5,299.0Q705.0,296.0 704.0,290.0Z" fill="#a8f8a8"/>
<path d="M733.0,294.5Q733.0,292.0 735.5,292.0Q738.0,292.0 738.0,294.5Q738.0,297.0 735.5,297.0Q733.0,297.0 733.0,294.5Z" fill="#c8e6fa"/>
<path d="M700.0,318.0Q700.0,296.0 715.0,298.0Q730.0,300.0 750.0,304.0Q770.0,308.0 787.0,307.0Q804.0,306.0 804.0,323.0Q804.0,340.0 752.0,340.0Q700.0,340.0 700.0,318.0Z" fill="#ffff80"/>
<path d="M708.9,301.0Q708.9,298.3 711.5,298.3Q714.2,298.3 714.2,301.0Q714.2,303.7 711.5,303.7Q708.9,303.7 708.9,301.0Z" fill="#ffa060"/>
<path d="M708.9,310.4Q708.9,307.7 713.6,307.7Q718.3,307.7 718.3,310.4Q718.3,313.0 713.6,313.0Q708.9,313.0 708.9,310.4Z" fill="#5fc8f8"/>
<path d="M714.2,317.8Q714.2,313.0 718.2,313.0Q722.3,313.0 722.3,317.8Q722.3,322.5 718.2,322.5Q714.2,322.5 714.2,317.8Z" fill="#ff7850"/>
<path d="M717.0,321.0Q717.0,318.0 720.5,318.0Q724.0,318.0 724.0,321.0Q724.0,324.0 720.5,324.0Q717.0,324.0 717.0,321.0Z" fill="#ffa060"/>
<path d="M726.5,322.0Q725.0,310.0 742.5,311.0Q760.0,312.0 762.5,321.0Q765.0,330.0 755.0,334.0Q745.0,338.0 736.5,336.0Q728.0,334.0 726.5,322.0Z" fill="#ffe4a0"/>
<path d="M734.4,320.5Q734.4,317.0 738.5,317.0Q742.5,317.0 742.5,320.5Q742.5,324.0 738.5,324.0Q734.4,324.0 734.4,320.5Z" fill="#ffa060"/>
<path d="M731.8,330.0Q731.8,326.6 737.1,326.6Q742.5,326.6 742.5,330.0Q742.5,333.3 737.1,333.3Q731.8,333.3 731.8,330.0Z" fill="#ff7850"/>
<path d="M776.2,329.3Q776.2,326.6 779.6,326.6Q783.0,326.6 783.0,329.3Q783.0,332.0 779.6,332.0Q776.2,332.0 776.2,329.3Z" fill="#ffa060"/>
<path d="M769.0,327.0Q768.0,318.0 779.0,317.0Q790.0,316.0 791.0,325.5Q792.0,335.0 781.0,335.5Q770.0,336.0 769.0,327.0Z" fill="#ffe4a0"/>
<path d="M776.2,329.3Q776.2,326.6 779.6,326.6Q783.0,326.6 783.0,329.3Q783.0,332.0 779.6,332.0Q776.2,332.0 776.2,329.3Z" fill="#ffa060"/>
<path d="M752.0,315.5Q752.0,313.0 756.0,313.0Q760.0,313.0 760.0,315.5Q760.0,318.0 756.0,318.0Q752.0,318.0 752.0,315.5Z" fill="#a8f8a8"/>
<path d="M758.7,323.2Q758.7,319.8 761.4,319.8Q764.0,319.8 764.0,323.2Q764.0,326.6 761.4,326.6Q758.7,326.6 758.7,323.2Z" fill="#c8e6fa"/>
<path d="M786.0,330.0Q786.0,325.0 790.0,325.0Q794.0,325.0 794.0,330.0Q794.0,335.0 790.0,335.0Q786.0,335.0 786.0,330.0Z" fill="#c8e6fa"/>
<path d="M788.0,331.0Q788.0,329.0 790.0,329.0Q792.0,329.0 792.0,331.0Q792.0,333.0 790.0,333.0Q788.0,333.0 788.0,331.0Z" fill="#5fc8f8"/>
<path d="M773.5,301.7Q773.5,293.0 789.0,293.0Q804.5,293.0 804.5,301.7Q804.5,310.4 789.0,310.4Q773.5,310.4 773.5,301.7Z" fill="#a8f8a8"/>
<path d="M794.0,317.5Q794.0,310.0 799.0,310.0Q804.0,310.0 804.0,317.5Q804.0,325.0 799.0,325.0Q794.0,325.0 794.0,317.5Z" fill="#a8f8a8"/>
<path d="M700.0,379.0Q700.0,338.0 750.0,338.0Q800.0,338.0 800.0,379.0Q800.0,420.0 750.0,420.0Q700.0,420.0 700.0,379.0Z" fill="#ffff80"/>
<path d="M731.6,354.5Q731.6,339.0 742.0,339.0Q752.3,339.0 752.3,354.5Q752.3,370.0 742.0,370.0Q731.6,370.0 731.6,354.5Z" fill="#a8f8a8"/>
<path d="M753.5,350.0Q752.0,340.0 761.0,339.0Q770.0,338.0 771.0,346.5Q772.0,355.0 763.5,357.5Q755.0,360.0 753.5,350.0Z" fill="#ffe4a0"/>
<path d="M735.0,358.5Q735.0,356.0 738.0,356.0Q741.0,356.0 741.0,358.5Q741.0,361.0 738.0,361.0Q735.0,361.0 735.0,358.5Z" fill="#c8e6fa"/>
<path d="M719.6,369.9Q719.6,364.7 723.0,364.7Q726.5,364.7 726.5,369.9Q726.5,375.0 723.0,375.0Q719.6,375.0 719.6,369.9Z" fill="#a8f8a8"/>
<path d="M719.6,395.5Q719.6,385.0 728.2,387.5Q736.8,390.0 736.8,398.0Q736.8,406.0 728.2,406.0Q719.6,406.0 719.6,395.5Z" fill="#ffe4a0"/>
<path d="M724.0,399.0Q724.0,396.0 732.0,396.0Q740.0,396.0 740.0,399.0Q740.0,402.0 732.0,402.0Q724.0,402.0 724.0,399.0Z" fill="#ffff80"/>
</g>
<path d="M182.5,196.0L183.6,193.8L187.0,191.7L192.6,190.7L195.9,191.1L196.4,194.3L192.1,195.7L192.6,198.3L195.2,200.6L195.5,202.3L197.9,204.2L195.5,205.9L197.9,207.7L198.2,211.1L193.7,212.4L190.3,211.5L187.0,210.5L186.7,208.8L188.1,205.0L189.9,204.6L188.1,203.5L186.1,201.6L183.6,199.3L183.6,197.6ZM138.9,201.2L140.0,198.5L141.6,196.4L143.8,194.3L145.6,191.7L149.0,191.7L152.3,192.8L150.1,193.8L152.3,196.0L155.7,195.3L159.0,194.5L162.4,190.7L165.3,190.1L163.5,191.9L161.3,194.3L163.5,196.2L166.8,198.3L170.4,202.1L166.8,203.3L162.4,203.5L159.0,202.7L155.7,201.2L151.2,201.2L146.7,202.9L142.2,202.9L140.0,202.3ZM676.5,191.3L682.3,188.6L684.5,186.9L690.1,186.9L692.8,189.6L693.4,191.7L689.0,191.7L685.6,190.7L680.0,191.5ZM686.1,201.9L687.4,202.1L689.4,200.2L689.4,197.0L691.2,194.9L692.3,193.2L689.0,192.8L686.7,193.8L686.7,197.0L685.8,199.1ZM693.4,192.8L695.7,192.4L700.2,193.0L702.8,194.1L703.5,196.0L699.9,196.6L698.1,199.1L697.9,197.4L695.7,197.0L693.4,193.8ZM695.7,201.9L699.0,201.2L701.3,200.6L705.3,199.3L706.0,200.0L702.4,201.2L699.0,202.5ZM704.0,198.5L708.0,197.8L711.8,196.8L711.8,198.3L708.0,198.5ZM661.0,181.6L663.3,179.1L664.4,176.6L665.5,177.0L664.8,180.2L666.2,183.3L665.1,183.5ZM148.5,290.1L152.3,289.1L153.7,290.3L153.0,292.9L151.6,295.0L149.0,295.4L148.1,292.9ZM142.7,296.7L144.5,299.8L145.8,304.4L146.7,308.0L146.0,307.8L144.0,303.4L142.5,299.2ZM153.7,309.7L155.0,312.9L155.4,316.0L156.1,319.8L155.4,319.6L154.1,315.0L153.2,310.8ZM208.2,193.8L210.4,191.9L213.8,191.5L214.9,193.8L212.7,196.0L209.3,196.6ZM241.8,193.4L245.1,191.7L249.6,191.3L254.1,191.9L253.6,192.6L248.5,192.2L244.0,193.0ZM144.5,161.6L147.8,160.1L150.7,161.2L149.0,162.9L145.6,163.1ZM154.5,160.8L156.8,158.7L158.6,157.6L158.3,160.1L156.3,161.2Z" fill="#fff"/>
<path d="M64.9,213.9L67.6,212.4L72.9,212.2L76.3,209.0L77.8,208.0L76.7,206.5L79.4,203.3L84.6,201.4L84.3,199.1L87.5,198.3L90.8,198.9L94.2,197.4L97.1,196.2L99.8,197.0L100.9,199.1L102.4,200.4L104.9,201.9L107.8,202.9L112.3,205.2L112.3,209.6L114.5,208.8L115.6,207.5L114.5,206.3L115.9,204.4L118.8,205.2L117.7,204.2L113.2,202.3L109.8,200.8L107.8,198.1L104.9,196.0L105.1,194.1L108.0,193.4L108.5,195.3L110.9,194.5L112.7,197.6L116.5,199.1L118.8,200.4L120.8,201.4L121.0,204.4L122.6,206.5L125.0,210.3L126.1,212.2L127.7,213.0L128.8,210.7L131.1,209.2L128.8,207.7L127.9,204.8L130.6,204.4L131.7,203.5L135.5,203.7L136.0,205.2L136.0,206.5L137.3,208.6L138.4,210.7L140.0,212.4L143.4,213.4L145.8,212.2L149.0,212.8L152.3,213.6L155.0,212.2L158.3,212.6L157.5,214.9L157.7,216.4L156.8,218.3L155.9,220.2L154.5,223.1L151.2,224.2L149.6,224.0L145.6,223.3L144.0,224.0L140.0,224.4L133.8,223.1L131.1,222.3L127.7,220.6L124.4,220.6L122.1,222.3L122.1,224.6L119.9,225.9L116.5,224.4L112.7,223.3L111.4,221.7L106.5,220.4L103.1,220.0L100.0,217.4L102.0,215.5L100.9,212.8L102.0,211.5L99.3,211.1L96.4,212.0L91.9,211.5L84.1,212.2L79.6,212.8L75.2,214.9L72.5,215.8L68.5,215.5L65.5,214.1L64.0,214.3L62.2,218.1L55.9,225.7L55.0,228.6L47.9,231.3L45.0,234.7L41.6,239.1L39.2,245.5L40.5,248.6L41.6,251.8L40.5,256.0L38.3,258.7L39.8,261.3L40.1,263.8L42.7,265.5L44.5,267.2L47.0,269.7L47.9,271.8L50.6,273.9L53.9,276.4L57.3,279.2L60.6,280.4L66.2,279.0L72.9,279.8L77.4,278.1L80.8,276.6L83.0,276.4L87.5,276.4L89.7,279.2L91.9,280.6L94.2,280.2L96.4,280.0L98.2,281.5L99.3,284.4L98.6,287.6L98.2,290.8L97.1,291.8L98.6,295.0L102.0,297.7L104.2,300.2L104.9,302.3L106.5,305.5L107.6,309.7L107.6,313.9L105.4,318.1L103.8,323.4L103.8,326.6L105.4,329.7L107.6,333.5L109.8,337.1L109.8,340.3L111.4,346.6L114.3,350.0L116.5,355.0L118.1,358.2L118.5,361.7L121.7,363.0L126.6,361.5L133.3,361.3L136.7,360.9L140.0,359.2L144.5,355.0L146.7,351.8L150.1,349.7L150.7,344.5L151.2,343.0L156.3,339.8L156.8,336.0L155.7,331.8L159.0,329.7L164.6,325.5L168.0,321.3L168.0,312.9L165.7,308.7L165.1,304.4L164.2,302.3L165.7,299.6L167.3,296.0L170.2,293.3L174.7,288.6L179.1,285.5L183.6,280.2L187.0,276.0L190.3,269.7L191.9,264.8L187.0,265.9L178.0,267.6L174.2,265.5L172.4,262.3L169.1,259.2L165.7,257.0L163.5,251.8L160.6,245.5L159.7,243.4L156.8,240.2L155.7,237.0L153.4,232.8L152.3,230.7L150.3,226.7L153.9,231.1L155.7,227.6L157.9,232.8L161.3,238.1L164.6,243.4L166.8,247.6L170.2,252.8L173.1,258.1L174.2,262.9L178.0,262.7L184.7,260.2L191.4,257.7L194.1,256.8L199.3,253.9L201.5,252.2L204.4,250.3L206.6,248.6L208.2,246.5L211.1,242.3L208.4,240.0L204.9,239.1L203.3,236.0L203.3,234.3L201.5,236.0L199.3,238.7L193.7,239.1L192.6,238.1L192.8,235.1L191.4,234.9L190.3,237.0L189.2,233.9L187.0,231.8L185.9,229.7L184.7,226.9L186.5,226.1L189.2,226.1L190.3,228.0L192.6,230.9L195.9,232.8L199.9,233.9L203.3,232.4L205.5,235.3L209.3,236.2L214.9,236.6L219.4,236.4L226.1,236.2L227.9,237.5L230.6,240.2L233.9,241.7L231.7,242.7L235.0,245.9L240.0,245.2L239.7,242.9L240.4,247.6L240.2,249.7L241.8,256.0L244.0,260.2L246.2,265.5L248.0,269.7L250.7,272.6L252.3,271.0L254.7,268.0L256.1,264.4L257.0,261.3L256.7,257.0L259.2,255.2L261.4,253.9L267.0,249.0L270.8,247.6L271.9,244.4L275.3,243.4L278.6,243.4L282.0,242.1L283.1,245.0L283.8,246.1L286.5,248.6L288.7,251.8L288.3,256.0L290.5,256.4L293.2,254.9L295.4,254.9L296.1,259.2L297.7,263.4L297.7,268.6L297.2,272.4L301.0,276.0L301.7,279.2L303.2,283.4L306.6,285.9L308.8,287.0L310.4,286.8L308.8,283.8L308.6,280.2L305.9,276.6L303.2,275.2L301.7,272.8L300.8,270.1L299.2,267.6L300.1,264.8L301.0,262.7L302.1,261.3L303.2,262.9L306.2,264.0L307.7,266.5L311.1,267.8L311.7,271.6L315.5,269.7L316.7,267.8L321.1,265.5L321.8,262.5L321.1,257.5L319.3,255.6L316.9,253.7L315.5,251.1L313.8,249.7L315.8,246.7L318.7,244.4L322.5,244.2L324.0,246.7L324.5,245.0L327.2,244.2L331.2,242.9L332.8,242.7L337.9,241.2L340.1,239.8L342.4,237.9L344.6,235.8L345.1,233.2L346.9,231.1L349.1,229.2L350.2,226.7L349.1,224.8L350.0,223.3L347.7,221.0L346.4,217.4L343.9,216.4L346.4,213.6L349.1,212.0L351.3,210.9L349.1,210.7L347.3,210.1L343.5,211.3L342.4,209.6L340.4,207.7L342.4,207.1L344.6,205.6L348.0,203.7L350.7,204.4L348.6,206.5L349.5,207.5L351.3,206.5L355.3,205.6L357.4,206.5L357.6,209.4L359.6,210.3L360.5,212.2L360.0,216.0L362.5,216.8L366.5,215.3L367.0,212.8L366.8,210.3L364.3,208.4L362.5,206.1L365.0,204.8L367.6,203.3L367.4,201.6L369.7,200.6L372.1,198.9L374.8,199.5L380.4,197.2L384.9,193.2L387.3,190.3L391.1,186.9L391.6,183.3L393.6,179.7L392.7,177.6L388.2,175.5L384.2,175.9L383.3,174.7L379.7,174.5L384.9,171.5L391.6,167.9L395.4,165.4L398.3,164.8L403.6,164.6L409.7,164.6L415.7,165.6L418.4,165.2L422.2,164.1L424.0,162.2L427.8,160.1L434.7,159.5L436.1,161.2L438.5,162.5L434.1,166.5L428.5,167.9L426.2,170.7L425.3,173.8L426.2,178.0L427.8,182.5L431.8,178.3L435.2,175.9L439.2,173.8L442.3,171.7L440.8,168.6L443.0,165.4L446.4,162.9L449.3,162.5L456.4,162.2L458.7,163.3L463.1,161.2L466.5,159.5L473.2,158.0L477.7,158.5L476.5,153.6L479.9,152.8L488.8,151.7L495.6,154.2L497.8,151.7L502.7,150.7L497.8,148.6L488.8,147.5L479.9,144.5L471.0,142.7L457.5,142.0L450.8,143.1L437.4,143.1L435.2,140.5L426.2,140.1L417.3,140.3L412.8,139.1L403.9,137.4L392.7,136.5L388.2,139.1L381.5,138.9L372.6,139.5L368.1,140.3L365.9,138.0L364.7,135.9L360.3,135.1L354.7,134.9L348.0,136.1L341.3,134.9L334.6,134.4L331.2,135.1L327.8,134.2L323.4,133.8L329.0,129.0L316.7,126.4L310.0,126.0L301.0,128.5L296.5,129.2L289.8,129.6L278.6,130.6L271.9,132.8L269.7,134.2L271.9,135.9L258.5,138.0L257.4,134.9L247.3,139.7L240.0,136.5L232.8,135.1L230.6,140.1L226.1,143.7L220.5,143.7L212.7,142.7L209.3,145.6L200.4,145.6L197.0,145.4L185.9,147.1L175.8,145.4L174.7,150.0L169.8,150.2L165.7,146.4L157.9,144.1L151.2,143.5L145.6,142.7L140.0,140.1L133.3,139.9L124.4,141.8L117.7,142.7L112.1,145.4L108.7,147.9L105.4,151.1L100.9,153.8L96.4,155.9L89.7,158.7L88.6,162.2L89.9,165.4L93.1,167.5L96.4,167.1L100.9,165.0L102.2,165.6L103.8,167.5L105.4,170.7L106.5,173.0L109.4,172.8L113.2,171.1L114.3,168.6L114.5,166.5L118.8,164.4L116.5,161.2L116.1,158.5L123.2,155.5L125.5,153.6L127.7,151.1L134.0,151.5L134.0,153.0L128.8,155.3L125.5,158.0L125.5,161.2L128.4,163.3L133.3,162.7L137.8,162.2L144.5,163.3L141.1,163.9L135.5,164.4L131.1,164.8L129.9,166.5L132.0,169.0L129.9,169.8L126.6,168.6L124.4,170.0L124.4,172.8L122.1,174.3L121.0,175.1L118.8,174.7L114.3,174.9L109.2,176.1L105.4,175.1L102.0,175.9L101.6,175.1L101.8,170.9L100.9,168.4L96.4,169.4L95.5,172.8L96.6,175.9L93.1,177.0L88.6,177.4L87.5,179.1L85.9,181.0L83.0,182.0L81.0,182.5L80.8,183.9L77.8,185.0L74.5,185.2L73.2,185.0L74.0,187.3L70.7,186.9L66.9,187.7L67.8,189.0L71.8,190.1L74.7,192.4L74.7,195.5L74.0,198.3L69.6,198.3L64.0,197.8L59.5,197.6L56.6,199.1L57.7,201.6L57.5,205.4L56.4,208.2L57.5,209.9L57.3,211.8L60.6,211.3L63.3,212.2ZM869.9,213.9L872.6,212.4L877.9,212.2L881.3,209.0L882.8,208.0L881.7,206.5L884.4,203.3L889.6,201.4L889.3,199.1L892.5,198.3L895.8,198.9L899.2,197.4L902.1,196.2L904.8,197.0L905.9,199.1L907.4,200.4L909.9,201.9L912.8,202.9L917.3,205.2L917.3,209.6L919.5,208.8L920.6,207.5L919.5,206.3L920.9,204.4L923.8,205.2L922.6,204.2L918.2,202.3L914.8,200.8L912.8,198.1L909.9,196.0L910.1,194.1L913.0,193.4L913.5,195.3L915.9,194.5L917.7,197.6L921.5,199.1L923.8,200.4L925.8,201.4L926.0,204.4L927.6,206.5L930.0,210.3L931.1,212.2L932.7,213.0L933.8,210.7L936.1,209.2L933.8,207.7L932.9,204.8L935.6,204.4L936.7,203.5L940.5,203.7L941.0,205.2L941.0,206.5L942.3,208.6L943.4,210.7L945.0,212.4L948.4,213.4L950.8,212.2L954.0,212.8L957.3,213.6L960.0,212.2L963.3,212.6L962.5,214.9L962.7,216.4L961.8,218.3L960.9,220.2L959.5,223.1L956.2,224.2L954.6,224.0L950.6,223.3L949.0,224.0L945.0,224.4L938.8,223.1L936.1,222.3L932.7,220.6L929.4,220.6L927.1,222.3L927.1,224.6L924.9,225.9L921.5,224.4L917.7,223.3L916.4,221.7L911.5,220.4L908.1,220.0L905.0,217.4L907.0,215.5L905.9,212.8L907.0,211.5L904.3,211.1L901.4,212.0L896.9,211.5L889.1,212.2L884.6,212.8L880.2,214.9L877.5,215.8L873.5,215.5L870.5,214.1L869.0,214.3L867.2,218.1L860.9,225.7L860.0,228.6L852.9,231.3L850.0,234.7L846.6,239.1L844.2,245.5L845.5,248.6L846.6,251.8L845.5,256.0L843.3,258.7L844.8,261.3L845.1,263.8L847.7,265.5L849.5,267.2L852.0,269.7L852.9,271.8L855.6,273.9L858.9,276.4L862.3,279.2L865.6,280.4L871.2,279.0L877.9,279.8L882.4,278.1L885.8,276.6L888.0,276.4L892.5,276.4L894.7,279.2L896.9,280.6L899.2,280.2L901.4,280.0L903.2,281.5L904.3,284.4L903.6,287.6L903.2,290.8L902.1,291.8L903.6,295.0L907.0,297.7L909.2,300.2L909.9,302.3L911.5,305.5L912.6,309.7L912.6,313.9L910.4,318.1L908.8,323.4L908.8,326.6L910.4,329.7L912.6,333.5L914.8,337.1L914.8,340.3L916.4,346.6L919.3,350.0L921.5,355.0L923.1,358.2L923.5,361.7L926.7,363.0L931.6,361.5L938.3,361.3L941.7,360.9L945.0,359.2L949.5,355.0L951.7,351.8L955.1,349.7L955.7,344.5L956.2,343.0L961.3,339.8L961.8,336.0L960.7,331.8L964.0,329.7L969.6,325.5L973.0,321.3L973.0,312.9L970.7,308.7L970.1,304.4L969.2,302.3L970.7,299.6L972.3,296.0L975.2,293.3L979.7,288.6L984.1,285.5L988.6,280.2L992.0,276.0L995.3,269.7L996.9,264.8L992.0,265.9L983.0,267.6L979.2,265.5L977.4,262.3L974.1,259.2L970.7,257.0L968.5,251.8L965.6,245.5L964.7,243.4L961.8,240.2L960.7,237.0L958.4,232.8L957.3,230.7L955.3,226.7L958.9,231.1L960.7,227.6L962.9,232.8L966.3,238.1L969.6,243.4L971.8,247.6L975.2,252.8L978.1,258.1L979.2,262.9L983.0,262.7L989.7,260.2L996.4,257.7L999.1,256.8L1004.3,253.9L1006.5,252.2L1009.4,250.3L1011.6,248.6L1013.2,246.5L1016.1,242.3L1013.4,240.0L1009.9,239.1L1008.3,236.0L1008.3,234.3L1006.5,236.0L1004.3,238.7L998.7,239.1L997.6,238.1L997.8,235.1L996.4,234.9L995.3,237.0L994.2,233.9L992.0,231.8L990.9,229.7L989.7,226.9L991.5,226.1L994.2,226.1L995.3,228.0L997.6,230.9L1000.9,232.8L1004.9,233.9L1008.3,232.4L1010.5,235.3L1014.3,236.2L1019.9,236.6L1024.4,236.4L1031.1,236.2L1032.9,237.5L1035.6,240.2L1038.9,241.7L1036.7,242.7L1040.0,245.9L1045.0,245.2L1044.7,242.9L1045.4,247.6L1045.2,249.7L1046.8,256.0L1049.0,260.2L1051.2,265.5L1053.0,269.7L1055.7,272.6L1057.3,271.0L1059.7,268.0L1061.1,264.4L1062.0,261.3L1061.7,257.0L1064.2,255.2L1066.4,253.9L1072.0,249.0L1075.8,247.6L1076.9,244.4L1080.3,243.4L1083.7,243.4L1087.0,242.1L1088.1,245.0L1088.8,246.1L1091.5,248.6L1093.7,251.8L1093.3,256.0L1095.5,256.4L1098.2,254.9L1100.4,254.9L1101.1,259.2L1102.7,263.4L1102.7,268.6L1102.2,272.4L1106.0,276.0L1106.7,279.2L1108.2,283.4L1111.6,285.9L1113.8,287.0L1115.4,286.8L1113.8,283.8L1113.6,280.2L1110.9,276.6L1108.2,275.2L1106.7,272.8L1105.8,270.1L1104.2,267.6L1105.1,264.8L1106.0,262.7L1107.1,261.3L1108.2,262.9L1111.2,264.0L1112.7,266.5L1116.1,267.8L1116.7,271.6L1120.5,269.7L1121.7,267.8L1126.1,265.5L1126.8,262.5L1126.1,257.5L1124.3,255.6L1121.9,253.7L1120.5,251.1L1118.8,249.7L1120.8,246.7L1123.7,244.4L1127.5,244.2L1129.0,246.7L1129.5,245.0L1132.2,244.2L1136.2,242.9L1137.8,242.7L1142.9,241.2L1145.1,239.8L1147.4,237.9L1149.6,235.8L1150.1,233.2L1151.9,231.1L1154.1,229.2L1155.2,226.7L1154.1,224.8L1155.0,223.3L1152.7,221.0L1151.4,217.4L1148.9,216.4L1151.4,213.6L1154.1,212.0L1156.3,210.9L1154.1,210.7L1152.3,210.1L1148.5,211.3L1147.4,209.6L1145.4,207.7L1147.4,207.1L1149.6,205.6L1153.0,203.7L1155.7,204.4L1153.6,206.5L1154.5,207.5L1156.3,206.5L1160.3,205.6L1162.4,206.5L1162.6,209.4L1164.6,210.3L1165.5,212.2L1165.0,216.0L1167.5,216.8L1171.5,215.3L1172.0,212.8L1171.8,210.3L1169.3,208.4L1167.5,206.1L1170.0,204.8L1172.6,203.3L1172.4,201.6L1174.7,200.6L1177.1,198.9L1179.8,199.5L1185.4,197.2L1189.9,193.2L1192.3,190.3L1196.1,186.9L1196.6,183.3L1198.6,179.7L1197.7,177.6L1193.2,175.5L1189.2,175.9L1188.3,174.7L1184.7,174.5L1189.9,171.5L1196.6,167.9L1200.4,165.4L1203.3,164.8L1208.6,164.6L1214.7,164.6L1220.7,165.6L1223.4,165.2L1227.2,164.1L1229.0,162.2L1232.8,160.1L1239.7,159.5L1241.1,161.2L1243.5,162.5L1239.1,166.5L1233.5,167.9L1231.2,170.7L1230.3,173.8L1231.2,178.0L1232.8,182.5L1236.8,178.3L1240.2,175.9L1244.2,173.8L1247.3,171.7L1245.8,168.6L1248.0,165.4L1251.4,162.9L1254.3,162.5L1261.4,162.2L1263.7,163.3L1268.1,161.2L1271.5,159.5L1278.2,158.0L1282.7,158.5L1281.5,153.6L1284.9,152.8L1293.8,151.7L1300.6,154.2L1302.8,151.7L1307.7,150.7L1302.8,148.6L1293.8,147.5L1284.9,144.5L1276.0,142.7L1262.5,142.0L1255.8,143.1L1242.4,143.1L1240.2,140.5L1231.2,140.1L1222.3,140.3L1217.8,139.1L1208.9,137.4L1197.7,136.5L1193.2,139.1L1186.5,138.9L1177.6,139.5L1173.1,140.3L1170.9,138.0L1169.7,135.9L1165.3,135.1L1159.7,134.9L1153.0,136.1L1146.3,134.9L1139.6,134.4L1136.2,135.1L1132.8,134.2L1128.4,133.8L1134.0,129.0L1121.7,126.4L1115.0,126.0L1106.0,128.5L1101.5,129.2L1094.8,129.6L1083.7,130.6L1076.9,132.8L1074.7,134.2L1076.9,135.9L1063.5,138.0L1062.4,134.9L1052.3,139.7L1045.0,136.5L1037.8,135.1L1035.6,140.1L1031.1,143.7L1025.5,143.7L1017.7,142.7L1014.3,145.6L1005.4,145.6L1002.0,145.4L990.9,147.1L980.8,145.4L979.7,150.0L974.8,150.2L970.7,146.4L962.9,144.1L956.2,143.5L950.6,142.7L945.0,140.1L938.3,139.9L929.4,141.8L922.6,142.7L917.1,145.4L913.7,147.9L910.4,151.1L905.9,153.8L901.4,155.9L894.7,158.7L893.6,162.2L894.9,165.4L898.1,167.5L901.4,167.1L905.9,165.0L907.2,165.6L908.8,167.5L910.4,170.7L911.5,173.0L914.4,172.8L918.2,171.1L919.3,168.6L919.5,166.5L923.8,164.4L921.5,161.2L921.1,158.5L928.2,155.5L930.5,153.6L932.7,151.1L939.0,151.5L939.0,153.0L933.8,155.3L930.5,158.0L930.5,161.2L933.4,163.3L938.3,162.7L942.8,162.2L949.5,163.3L946.1,163.9L940.5,164.4L936.1,164.8L934.9,166.5L937.0,169.0L934.9,169.8L931.6,168.6L929.4,170.0L929.4,172.8L927.1,174.3L926.0,175.1L923.8,174.7L919.3,174.9L914.2,176.1L910.4,175.1L907.0,175.9L906.6,175.1L906.8,170.9L905.9,168.4L901.4,169.4L900.5,172.8L901.6,175.9L898.1,177.0L893.6,177.4L892.5,179.1L890.9,181.0L888.0,182.0L886.0,182.5L885.8,183.9L882.8,185.0L879.5,185.2L878.2,185.0L879.0,187.3L875.7,186.9L871.9,187.7L872.8,189.0L876.8,190.1L879.7,192.4L879.7,195.5L879.0,198.3L874.6,198.3L869.0,197.8L864.5,197.6L861.6,199.1L862.7,201.6L862.5,205.4L861.4,208.2L862.5,209.9L862.3,211.8L865.6,211.3L868.3,212.2ZM506.7,151.5L513.4,153.8L522.4,153.8L522.4,155.9L514.6,157.0L513.4,158.0L512.3,162.2L520.1,163.5L520.1,166.2L529.1,166.2L531.3,165.8L528.0,169.6L520.1,172.8L514.6,174.9L517.9,173.8L526.9,172.1L533.6,169.0L538.0,166.5L540.3,165.0L543.6,165.0L543.0,161.8L548.1,163.7L551.5,162.2L555.9,161.8L560.4,163.3L567.1,163.3L570.5,164.4L574.9,166.2L578.3,167.5L580.5,169.6L582.8,171.7L585.0,173.8L589.5,174.9L591.7,175.9L593.9,178.5L596.2,181.2L597.3,182.7L602.9,184.4L603.6,187.7L605.1,190.9L605.1,192.8L604.9,197.0L604.0,199.5L604.7,201.6L604.2,204.6L605.6,206.5L607.4,209.6L608.5,210.7L609.6,212.2L609.8,213.2L611.8,215.1L612.7,216.8L616.3,217.9L617.6,218.5L620.1,220.2L621.2,222.5L621.9,223.3L623.5,225.9L625.9,228.6L627.0,230.7L626.4,231.8L628.6,233.2L631.5,237.0L633.1,238.5L636.4,241.5L637.5,240.2L635.5,238.7L634.2,236.0L632.0,232.8L629.7,229.7L626.4,225.4L625.7,222.7L629.7,224.0L632.0,227.6L634.2,230.9L637.5,233.9L639.8,236.4L643.1,239.1L646.5,242.3L646.7,245.5L646.9,247.6L649.8,249.7L654.3,251.8L658.8,253.7L663.3,255.8L667.7,256.6L671.1,255.6L674.4,257.0L677.8,259.8L682.3,261.5L686.7,262.3L690.1,264.8L690.8,266.9L690.8,268.8L693.4,269.7L695.7,272.0L699.0,272.4L702.4,274.3L703.5,272.8L704.6,271.0L706.9,272.0L708.0,274.5L709.1,276.0L709.5,281.3L706.9,284.4L703.3,288.6L702.4,291.8L702.8,294.5L701.3,299.2L700.6,301.3L703.5,304.4L706.9,309.7L710.2,315.0L712.5,319.2L714.7,322.4L721.4,325.5L725.2,328.7L725.6,333.9L724.8,339.2L724.5,344.5L722.5,350.8L722.3,358.2L721.4,363.4L718.0,368.7L718.0,374.0L717.4,378.2L716.9,382.4L713.6,388.7L714.7,395.0L715.8,399.2L721.4,403.0L725.9,406.6L731.5,406.6L734.8,405.6L729.2,400.3L727.0,398.2L728.1,395.0L731.0,392.9L734.8,389.8L731.5,386.6L735.9,384.5L737.1,380.3L739.3,378.8L737.1,376.1L743.1,375.0L743.8,371.9L749.4,370.8L753.8,369.8L755.4,366.6L753.8,364.1L751.6,362.4L757.2,363.0L761.6,362.4L763.4,360.3L767.2,356.1L770.6,351.8L773.7,347.6L773.9,344.1L777.3,340.9L781.8,339.2L786.2,338.2L789.6,337.1L790.9,333.9L793.6,329.7L795.2,326.6L795.2,320.2L796.3,316.9L799.7,312.9L803.7,308.7L804.6,304.9L803.7,301.3L799.7,299.8L795.2,297.1L789.6,295.8L784.0,295.0L780.7,292.4L773.9,291.8L770.6,289.7L769.5,285.9L767.2,280.9L762.8,277.9L757.2,277.3L753.8,277.1L749.4,272.8L746.0,270.7L742.6,267.6L739.3,267.4L734.8,267.4L730.3,267.6L727.0,265.5L722.5,266.5L721.6,264.0L719.2,265.9L715.8,266.5L713.6,267.6L712.5,269.7L710.2,271.6L709.1,270.7L705.7,269.7L702.4,270.7L700.2,271.2L697.9,269.7L695.7,266.9L695.2,264.4L695.9,259.2L696.4,258.1L693.4,256.2L689.0,256.4L685.6,256.6L685.2,253.9L686.1,250.7L686.7,246.5L688.3,244.4L685.6,244.4L681.1,245.0L680.0,248.6L677.8,250.7L673.3,250.9L670.0,250.5L666.6,248.6L664.8,244.4L663.7,242.3L664.4,237.0L664.8,233.9L665.5,230.7L670.0,228.0L673.3,227.1L677.8,227.8L682.3,228.6L682.3,226.1L687.9,225.7L692.3,227.1L694.6,226.5L696.8,228.6L697.5,231.8L699.5,234.9L701.3,236.8L702.8,236.0L703.3,233.9L702.4,229.7L700.6,226.5L700.6,223.3L702.4,221.2L705.7,219.1L709.1,217.0L713.6,215.3L712.5,212.2L713.6,210.7L714.5,208.0L716.9,204.8L718.0,203.7L721.4,202.9L724.8,202.1L725.9,201.6L724.8,200.2L724.5,198.5L728.1,197.0L732.6,195.3L734.8,194.5L738.2,193.8L734.8,197.0L740.4,196.0L746.0,194.3L748.2,192.8L744.9,191.7L738.2,191.7L737.1,188.6L738.6,186.7L733.7,186.3L729.2,187.5L724.8,190.7L730.3,185.4L734.8,183.9L741.5,183.9L748.2,183.9L754.9,181.2L757.2,179.7L757.2,177.0L752.7,174.9L748.2,172.8L744.9,169.6L741.5,166.5L738.2,162.7L734.8,165.8L730.3,166.9L727.0,165.4L725.9,161.2L721.4,159.5L714.7,158.5L708.0,158.2L708.0,162.2L709.1,166.5L710.2,170.7L704.6,174.9L705.7,180.2L702.4,181.8L697.9,178.5L698.4,174.9L692.3,173.2L685.6,170.7L678.9,169.2L674.4,165.8L671.1,164.4L671.1,161.2L674.4,158.0L680.0,155.9L685.6,154.4L687.9,152.8L689.0,149.6L692.3,149.0L696.8,150.2L700.2,147.5L699.0,144.3L692.3,142.7L685.6,145.8L681.1,144.8L682.3,141.2L677.8,141.8L672.2,138.2L668.9,143.3L663.3,146.9L654.3,146.9L645.4,146.0L639.8,145.6L638.7,146.9L632.0,146.7L625.2,146.9L624.1,145.0L616.3,143.3L608.5,142.7L602.9,142.7L596.2,141.6L591.7,142.7L585.0,143.3L580.5,143.9L576.1,144.5L569.3,143.1L562.6,142.0L555.9,141.8L549.2,141.2L542.5,140.5L536.9,140.1L532.4,139.5L529.1,140.5L524.6,141.2L520.1,141.8L516.8,143.3L511.2,144.5L510.5,145.8L515.7,147.3L520.1,148.6L516.8,149.6L512.3,150.0ZM725.4,121.2L737.2,117.8L760.8,115.3L784.2,113.8L807.7,112.9L831.4,114.6L857.4,117.8L840.8,122.4L838.3,128.3L833.7,135.3L829.0,141.2L812.6,147.1L796.1,150.7L788.9,156.6L784.2,162.5L777.3,158.9L770.1,153.0L765.5,147.1L763.0,139.9L758.3,134.2L746.4,128.3L727.7,124.7ZM744.9,149.2L737.1,150.7L739.3,153.8L735.9,158.0L730.3,156.3L722.5,155.9L716.9,153.8L708.7,154.2L718.0,149.6L719.2,146.4L711.3,143.3L706.9,141.6L699.0,142.2L690.1,141.2L683.4,139.1L681.1,134.9L690.1,134.2L703.5,134.4L712.5,136.8L723.6,140.1L730.3,142.2L733.7,146.4ZM656.6,144.3L647.6,144.3L640.9,144.8L629.7,145.4L620.8,143.3L617.4,140.1L620.8,137.0L629.7,135.9L640.9,135.5L645.4,138.0L652.1,140.1L656.6,142.7ZM601.8,138.2L607.4,139.9L614.1,139.1L619.7,136.8L624.1,134.9L620.8,133.4L612.9,133.0L604.0,133.2L601.1,135.9ZM607.4,129.0L616.3,129.8L624.1,127.9L618.5,126.4L609.6,127.5ZM656.6,130.6L664.4,130.4L665.5,128.3L658.8,128.1ZM666.6,131.7L674.4,131.7L673.3,130.0L667.7,129.8ZM647.6,125.4L658.8,125.8L661.0,123.5L652.1,122.8ZM649.8,129.0L658.8,130.4L670.0,131.3L676.7,130.4L674.4,127.5L665.5,124.3L654.3,124.7L647.6,126.9ZM659.9,145.0L667.7,145.4L670.0,143.5L662.1,142.9ZM714.7,123.3L703.5,127.5L685.6,127.5L681.1,123.3L674.4,119.1L692.3,115.9L725.9,115.3L743.8,116.5L730.3,120.1L721.4,123.3ZM703.5,132.8L681.1,132.8L676.7,129.6L692.3,128.5L703.5,129.6ZM647.6,130.6L636.4,132.1L620.8,131.7L623.0,128.5L636.4,128.5L645.4,129.6ZM665.5,138.0L656.6,137.0L654.3,134.9L661.0,134.2L667.7,135.9ZM680.0,137.0L672.2,137.4L670.0,134.2L678.9,133.8ZM687.9,123.3L676.7,124.3L667.7,120.1L678.9,119.1L690.1,121.2ZM702.4,155.9L690.1,155.5L687.9,152.8L694.6,151.3L701.3,153.8ZM749.8,189.4L757.2,189.6L763.9,191.3L764.6,189.0L762.8,185.8L758.3,184.4L758.3,181.0L754.9,181.6L751.6,186.5ZM692.3,243.6L696.8,241.5L701.3,241.0L705.7,242.5L710.2,245.0L714.7,246.1L716.5,247.1L713.6,247.8L709.1,247.8L706.9,244.4L701.3,244.0L697.9,242.7L693.4,243.8ZM716.0,250.9L719.6,247.8L725.9,248.2L729.5,250.5L727.0,251.4L722.5,252.6L719.2,251.8ZM707.3,251.1L711.8,251.6L710.2,252.2ZM732.1,250.7L735.7,251.1L734.8,252.0ZM595.5,182.7L602.9,183.7L606.5,187.7L603.3,187.3L598.4,184.8ZM370.1,218.1L373.7,215.3L379.3,214.5L381.5,213.9L383.3,211.1L387.1,210.7L389.3,208.6L390.5,205.4L390.5,202.5L393.8,202.9L393.8,205.4L394.9,206.9L392.7,209.2L392.5,211.8L392.2,214.3L390.5,216.0L388.2,216.6L387.1,216.8L383.7,216.8L381.5,219.1L379.3,218.5L378.2,217.0L374.8,217.4L372.6,218.3L370.3,218.3ZM367.6,219.1L370.3,218.3L372.1,221.2L370.3,224.0L368.8,224.0L367.6,220.8ZM373.7,219.8L375.9,217.7L378.6,217.7L378.2,218.7L374.8,220.6ZM390.5,202.3L393.1,201.6L397.6,201.2L402.8,198.7L401.6,196.6L394.9,193.8L393.8,197.0L391.6,199.1L390.5,200.2ZM394.9,192.8L398.3,191.5L397.2,186.5L400.5,186.5L397.2,181.2L398.3,177.0L396.0,175.3L394.3,178.0L394.9,184.4L394.9,190.7ZM346.0,241.2L348.0,243.6L350.0,238.1L349.1,236.4L346.9,238.1ZM320.2,249.3L322.3,251.4L324.5,250.3L325.6,248.0L324.5,247.4L322.3,247.6ZM345.7,250.7L346.9,256.0L345.7,258.3L347.1,259.8L349.1,260.8L354.7,263.4L354.7,261.7L351.3,259.6L349.3,256.4L350.7,250.7L348.0,250.5ZM350.2,275.0L354.7,273.9L358.0,277.1L360.3,274.5L359.1,270.1L357.8,269.1L353.6,271.4L351.3,273.3ZM355.1,263.4L358.5,266.5L356.9,268.6L355.8,266.5ZM350.2,264.8L352.4,266.5L350.2,267.6ZM351.3,266.9L353.6,270.3L352.0,269.7ZM339.5,272.0L345.3,265.7L344.6,267.6L340.1,272.4ZM321.1,286.5L322.3,290.8L323.8,295.6L327.4,297.1L331.9,296.7L334.1,298.1L337.2,297.7L337.9,293.9L340.1,289.7L340.8,287.2L343.0,287.6L341.3,284.9L340.4,280.6L343.5,278.7L340.6,276.0L338.6,275.0L335.7,278.7L332.3,280.2L330.1,283.0L325.6,286.5ZM290.5,277.9L295.4,278.7L297.7,281.3L302.1,285.5L305.5,287.0L309.5,291.8L311.1,293.9L314.4,296.4L314.0,301.9L311.1,302.1L306.6,298.1L303.2,294.3L299.9,289.7L297.7,285.9L294.3,282.3ZM312.6,304.0L314.4,302.1L318.9,303.0L324.5,304.2L329.0,304.2L333.4,305.9L333.2,308.0L327.8,307.2L323.4,306.6L318.9,306.1L315.5,305.3ZM334.6,307.0L337.9,307.2L343.5,307.0L343.5,308.2L336.8,308.7L334.6,308.2ZM345.3,307.4L352.4,307.0L352.0,308.0L345.5,308.2ZM354.7,310.8L357.4,307.6L361.8,307.4L358.0,309.7L354.7,311.4ZM344.6,301.3L344.2,297.1L343.0,295.6L345.3,289.7L346.9,288.6L352.4,287.8L355.8,287.6L357.4,286.5L354.7,288.9L349.1,288.6L347.1,290.8L348.6,293.5L353.1,291.6L350.2,293.5L351.3,297.1L352.4,299.2L349.1,299.2L348.0,296.0L346.9,301.3ZM362.5,285.9L365.2,287.6L363.6,289.7L364.7,291.4L363.0,290.8ZM363.6,296.0L369.9,296.4L369.2,297.7L363.6,297.1ZM370.3,292.9L373.7,290.5L377.0,291.6L379.3,296.7L384.9,292.9L392.7,295.2L400.5,297.7L403.9,301.3L407.2,302.3L407.9,306.6L410.6,308.7L413.9,311.8L408.3,311.2L403.9,307.0L399.4,305.9L397.2,308.7L392.7,308.9L388.2,306.8L386.0,307.4L385.5,302.3L379.3,299.0L374.8,298.1L372.6,295.8L372.1,293.9ZM409.0,301.3L412.8,300.2L416.2,298.5L418.0,299.2L415.1,301.3L411.7,302.8L409.0,302.3ZM332.3,336.0L331.2,341.3L332.3,345.5L334.6,352.9L335.0,360.3L334.6,362.0L339.0,363.4L342.4,363.0L345.7,361.3L353.6,361.1L356.9,358.8L362.5,357.7L370.3,356.1L377.0,358.2L380.4,363.0L384.9,359.2L385.5,364.5L387.1,363.0L389.3,365.5L390.5,369.3L394.9,370.4L399.4,370.2L404.5,372.1L407.2,369.8L412.4,368.7L413.3,364.5L415.5,360.9L418.4,357.1L420.9,349.7L420.0,343.4L417.3,341.3L414.6,337.3L411.7,335.0L409.9,332.5L405.0,329.7L402.8,323.4L402.3,321.3L398.3,319.6L398.3,316.0L396.0,312.2L394.0,316.2L394.0,321.3L393.1,325.5L390.5,327.0L388.2,325.5L384.9,323.4L381.5,321.3L381.3,318.1L383.3,315.4L380.4,315.0L374.8,313.5L371.4,313.5L368.5,315.8L367.0,320.9L363.6,321.3L361.4,318.8L358.0,320.2L354.7,324.0L350.9,325.5L350.2,328.7L346.9,331.2L343.0,332.5L338.4,333.1L335.7,335.0ZM401.0,375.4L409.0,375.9L409.0,378.6L406.1,381.6L402.8,380.7L401.0,377.1ZM463.6,362.2L467.6,364.9L469.8,367.4L472.1,369.1L476.5,369.1L475.2,372.3L473.2,373.1L471.6,375.7L469.2,377.3L467.8,376.5L468.9,374.4L466.0,372.5L467.6,371.4L468.3,368.7L467.2,366.8L464.5,364.3ZM463.6,375.0L466.9,376.7L466.9,378.2L464.2,381.3L460.9,383.0L459.8,385.6L456.4,387.9L449.7,387.0L450.4,384.5L454.2,382.4L458.7,380.3L460.9,377.8L462.5,375.7ZM187.6,315.0L190.3,322.4L188.1,326.6L185.9,332.9L183.6,341.3L182.5,342.8L178.0,343.2L175.1,339.2L174.2,335.0L176.5,330.8L175.8,325.5L180.3,322.8L184.3,320.2L186.5,316.7ZM256.1,269.3L258.5,271.8L260.3,273.9L259.6,276.6L257.4,277.3L255.8,275.0L256.1,271.8ZM64.7,184.2L70.7,182.9L75.2,182.7L80.3,182.0L81.2,178.9L78.1,177.4L77.0,175.9L74.7,174.7L73.8,172.6L71.4,171.7L72.9,168.1L69.6,168.4L70.7,166.2L66.2,166.2L64.7,168.6L64.0,171.1L65.1,173.0L66.7,174.0L70.0,174.0L69.6,175.5L70.7,177.2L67.3,177.4L67.1,179.1L68.0,180.2L65.5,180.8L70.0,181.4L67.3,182.0ZM869.7,184.2L875.7,182.9L880.2,182.7L885.3,182.0L886.2,178.9L883.1,177.4L882.0,175.9L879.7,174.7L878.8,172.6L876.4,171.7L877.9,168.1L874.6,168.4L875.7,166.2L871.2,166.2L869.7,168.6L869.0,171.1L870.1,173.0L871.7,174.0L875.0,174.0L874.6,175.5L875.7,177.2L872.3,177.4L872.1,179.1L873.0,180.2L870.5,180.8L875.0,181.4L872.3,182.0ZM869.0,179.9L868.5,177.0L869.2,174.7L866.3,173.2L863.4,174.7L860.0,175.5L860.5,177.6L859.4,180.2L860.9,181.2L864.5,180.6L868.1,179.7ZM832.1,154.9L828.7,151.7L832.1,149.8L839.9,150.2L846.6,149.6L850.0,150.7L852.2,152.8L848.9,154.2L841.0,156.1L835.4,155.3ZM96.2,207.5L98.9,207.3L99.3,204.4L98.2,202.9L95.7,203.5L96.2,205.4ZM96.6,202.5L98.2,202.5L98.6,199.5L96.6,200.4ZM105.1,209.9L112.3,209.0L111.2,212.4L105.4,210.5ZM129.9,215.3L136.2,215.5L133.3,216.2L130.2,215.5ZM149.6,216.0L154.5,214.7L152.3,216.8ZM102.0,124.3L113.2,128.5L124.4,126.4L137.8,123.5L122.1,120.5L102.0,121.6ZM192.6,139.1L197.0,140.5L206.0,141.0L202.6,137.0L206.0,132.8L214.9,130.0L230.6,127.9L226.1,127.5L209.3,130.0L200.4,133.8L197.0,135.5L192.8,138.0ZM289.8,123.3L301.0,124.3L312.2,124.3L310.0,121.2L294.3,118.6L289.8,120.1ZM381.5,132.8L392.7,134.2L408.3,131.3L392.7,129.6L383.7,130.6ZM476.5,139.1L484.4,139.7L479.9,140.5ZM182.5,120.1L216.0,120.1L211.6,118.0L189.2,119.1ZM744.9,398.8L750.5,397.6L753.4,398.2L750.5,399.9L746.0,399.5ZM511.2,175.9L514.6,175.5L513.4,174.7L510.1,175.3ZM502.3,178.5L506.7,177.4L505.6,176.8L501.1,177.8ZM487.7,180.6L495.6,179.9L494.4,179.3L486.6,179.9ZM473.2,180.6L478.8,181.4L481.0,180.4L475.4,179.9ZM498.9,155.7L504.5,156.3L504.9,156.8L498.9,156.3ZM403.4,197.6L407.2,196.2L407.9,195.5L403.9,197.0ZM409.5,194.5L413.5,192.6L413.9,191.9L409.9,193.8ZM416.2,191.1L419.5,189.0L420.0,188.4L416.6,190.5ZM421.8,187.1L425.8,184.2L426.2,183.3L422.2,186.5ZM423.1,301.1L426.0,303.4L425.3,304.2L423.1,302.1ZM434.3,309.3L437.0,309.9L436.5,310.6L434.5,310.1ZM436.5,307.2L438.3,309.3L437.9,309.9L436.3,308.0ZM431.8,306.1L434.7,307.4L434.3,307.8L431.6,306.6ZM449.9,321.3L451.3,321.7L451.7,324.0L450.4,323.4ZM444.1,332.5L447.5,334.4L450.8,336.7L449.7,337.1L445.2,333.9ZM473.9,326.6L476.5,326.1L476.8,328.0L474.1,327.8ZM477.2,324.0L479.9,323.8L480.3,325.1L477.7,325.1ZM496.0,318.1L498.9,318.8L497.3,319.2ZM528.4,244.2L530.0,244.8L529.1,245.0ZM525.1,242.9L526.2,243.6L525.5,243.6ZM531.1,245.7L533.3,245.7L533.6,246.3L532.0,246.3ZM533.6,246.9L535.8,248.0L534.7,249.7L533.6,248.4ZM182.5,196.0L183.6,193.8L187.0,191.7L192.6,190.7L195.9,191.1L196.4,194.3L192.1,195.7L192.6,198.3L195.2,200.6L195.5,202.3L197.9,204.2L195.5,205.9L197.9,207.7L198.2,211.1L193.7,212.4L190.3,211.5L187.0,210.5L186.7,208.8L188.1,205.0L189.9,204.6L188.1,203.5L186.1,201.6L183.6,199.3L183.6,197.6ZM138.9,201.2L140.0,198.5L141.6,196.4L143.8,194.3L145.6,191.7L149.0,191.7L152.3,192.8L150.1,193.8L152.3,196.0L155.7,195.3L159.0,194.5L162.4,190.7L165.3,190.1L163.5,191.9L161.3,194.3L163.5,196.2L166.8,198.3L170.4,202.1L166.8,203.3L162.4,203.5L159.0,202.7L155.7,201.2L151.2,201.2L146.7,202.9L142.2,202.9L140.0,202.3ZM676.5,191.3L682.3,188.6L684.5,186.9L690.1,186.9L692.8,189.6L693.4,191.7L689.0,191.7L685.6,190.7L680.0,191.5ZM686.1,201.9L687.4,202.1L689.4,200.2L689.4,197.0L691.2,194.9L692.3,193.2L689.0,192.8L686.7,193.8L686.7,197.0L685.8,199.1ZM693.4,192.8L695.7,192.4L700.2,193.0L702.8,194.1L703.5,196.0L699.9,196.6L698.1,199.1L697.9,197.4L695.7,197.0L693.4,193.8ZM695.7,201.9L699.0,201.2L701.3,200.6L705.3,199.3L706.0,200.0L702.4,201.2L699.0,202.5ZM704.0,198.5L708.0,197.8L711.8,196.8L711.8,198.3L708.0,198.5ZM661.0,181.6L663.3,179.1L664.4,176.6L665.5,177.0L664.8,180.2L666.2,183.3L665.1,183.5ZM148.5,290.1L152.3,289.1L153.7,290.3L153.0,292.9L151.6,295.0L149.0,295.4L148.1,292.9ZM142.7,296.7L144.5,299.8L145.8,304.4L146.7,308.0L146.0,307.8L144.0,303.4L142.5,299.2ZM153.7,309.7L155.0,312.9L155.4,316.0L156.1,319.8L155.4,319.6L154.1,315.0L153.2,310.8ZM208.2,193.8L210.4,191.9L213.8,191.5L214.9,193.8L212.7,196.0L209.3,196.6ZM241.8,193.4L245.1,191.7L249.6,191.3L254.1,191.9L253.6,192.6L248.5,192.2L244.0,193.0ZM144.5,161.6L147.8,160.1L150.7,161.2L149.0,162.9L145.6,163.1ZM154.5,160.8L156.8,158.7L158.6,157.6L158.3,160.1L156.3,161.2Z" fill="none" stroke="#000" stroke-width="1" stroke-linejoin="round"/>
<path d="M77.0,440.3L80.1,439.9L83.2,439.4L86.3,440.1L89.4,439.0L92.5,439.6L95.6,439.2L98.7,438.5L101.7,439.1L104.8,438.2L107.9,438.7L111.0,438.0L114.1,437.8L117.2,438.2L120.3,438.2L123.3,438.5L126.4,437.2L129.4,437.1L132.5,437.5L135.5,437.8L138.5,437.0L141.6,436.5L144.6,437.2L147.7,435.5L150.7,436.0L152.8,434.7L156.4,436.1L160.1,436.1L163.7,437.3L166.7,435.9L169.6,435.1L172.6,434.6L175.6,434.6L178.6,432.7L181.6,432.6L184.5,431.8L187.5,430.8L191.8,429.0L195.4,429.1L199.1,429.7L202.7,430.0L207.0,430.6L211.3,432.5L214.6,431.8L217.8,432.0L221.1,432.8L224.3,432.4L227.6,432.2L230.8,432.5L231.9,435.5L233.0,438.2L237.3,437.5L241.6,436.9L244.5,435.6L247.4,435.3L250.3,434.2L253.2,432.4L256.1,431.9L259.0,430.8L262.2,430.7L265.3,431.2L268.5,430.8L271.7,430.0L274.9,431.0L278.0,429.5L281.2,429.8L284.4,430.3L287.6,429.2L290.7,429.6L293.9,428.7L297.1,429.6L300.3,429.7L303.4,429.2L306.6,429.0L309.7,429.6L312.8,428.7L315.9,429.3L319.0,429.2L322.1,429.1L325.2,428.9L328.3,429.0L331.5,429.6L334.6,429.9L337.8,429.2L340.9,429.6L344.1,428.8L347.2,429.9L350.4,429.9L353.5,430.5L356.7,430.3L359.8,429.6L363.0,430.0L366.4,429.7L369.8,430.1L373.2,428.9L376.6,429.5L380.0,429.5L383.3,429.3L386.6,429.6L389.9,429.9L393.1,431.4L396.4,430.8L399.7,431.3L403.0,432.0L406.3,432.5L409.5,433.6L412.6,432.9L415.8,434.1L418.9,434.8L422.1,435.9L425.2,436.3L428.4,437.0L431.5,436.6L434.7,437.4L437.8,437.8L441.0,438.6L444.5,439.7L447.9,440.4L451.4,439.6L454.8,440.2L458.3,441.2L455.1,442.2L451.8,443.6L448.6,445.4L445.3,446.8L443.1,449.1L441.0,450.8L438.8,452.5L436.6,455.5L439.5,457.5L442.4,459.6L445.3,462.0L448.5,462.5L451.6,463.5L454.8,463.5L457.9,463.6L461.1,464.1L464.2,464.6L467.4,464.0L470.5,465.8L473.7,466.0L476.8,466.5L480.0,466.3L483.1,466.9L486.2,466.4L489.3,466.6L492.4,466.3L495.5,467.3L498.6,466.5L501.6,466.7L504.7,467.1L507.8,467.2L510.9,467.6L514.0,467.3L517.1,467.4L520.2,467.8L523.3,468.5L526.5,467.9L529.8,468.4L533.0,468.0L536.3,469.4L539.5,469.1L542.8,468.4L546.0,468.7L549.3,468.9L552.5,469.0L555.8,469.3L552.2,467.0L548.6,466.4L545.0,464.1L548.2,463.2L551.5,460.7L547.9,459.2L544.3,457.7L540.7,456.3L537.1,454.9L533.4,454.3L529.8,454.2L533.0,452.8L536.3,452.0L539.5,451.5L542.8,452.2L546.0,451.0L549.3,450.6L552.5,452.0L555.8,451.1L558.9,450.8L562.1,449.8L565.2,450.0L568.3,448.8L571.5,449.3L574.6,449.6L577.7,449.0L580.9,448.4L584.0,447.7L587.0,447.5L590.1,447.8L593.1,447.6L596.2,448.8L599.2,448.5L602.1,447.1L604.9,446.1L607.8,444.2L610.8,444.2L613.9,444.3L616.9,445.5L620.0,446.0L623.0,445.5L626.2,446.4L629.5,446.6L632.8,447.0L636.0,446.8L639.1,446.7L642.2,445.4L645.3,445.3L648.3,444.6L651.4,443.5L654.5,443.0L657.6,443.3L660.9,442.7L664.1,442.5L667.4,443.0L670.6,442.5L673.6,443.3L676.6,442.5L679.6,443.4L682.6,443.5L685.6,443.5L688.6,442.7L691.6,442.5L694.6,442.6L697.6,442.6L700.6,442.6L703.6,443.4L706.6,443.9L709.6,443.3L712.8,441.2L716.0,438.0L719.7,437.1L723.3,436.6L727.0,435.5L728.0,439.9L729.0,443.3L730.8,439.9L732.5,438.0L734.3,435.7L736.0,432.7L737.8,429.5L741.0,428.7L744.3,427.1L747.5,425.4L750.8,424.7L754.0,424.3L757.3,423.0L754.7,424.6L752.1,427.3L749.5,429.5L746.9,430.4L744.3,432.5L745.0,435.9L745.8,440.4L746.5,443.3L743.9,445.4L741.3,446.3L738.7,447.9L736.1,449.7L733.5,452.0L736.5,452.8L739.5,452.9L742.6,452.0L745.6,453.2L748.6,452.9L751.7,453.9L754.8,453.5L757.9,453.2L761.0,453.7L764.1,453.2L767.2,453.2L770.3,455.0L773.4,454.6L776.5,454.6L779.6,455.5L782.7,454.8L785.8,455.7L788.9,455.8L792.0,455.5L795.1,454.4L798.3,453.8L801.4,453.3L804.6,452.5L807.7,452.5L810.9,451.3L814.0,450.9L817.2,449.8L820.3,450.4L823.5,448.9L826.6,448.5L829.6,447.7L832.7,447.2L835.7,447.0L838.8,445.5L841.8,445.5L844.8,444.1L847.9,443.4L850.9,442.7L854.0,441.2L857.0,441.2L860.2,440.8L863.5,440.1L866.8,439.6L870.0,440.6L873.2,439.3L876.5,439.5L879.8,439.6L883.0,439.0" fill="none" stroke="#000" stroke-width="1"/>
<path d="M308.5,181.5L311,179.5L315,176.5L318.5,173.5L321,171.5L322,172.5L319.5,175.5L316,178.5L312,181L309,182.5Z" fill="#fff" stroke="#000" stroke-width="1"/><path d="M241.5,206.3L244.7,203.9L251.1,201.5L256,197.4L259.2,194.2L262.4,191L267.3,187.7L272.1,185.3L276.9,187.7L280.2,192.6L286.6,195.8L293.1,199L302.7,200.6L312.4,199.8L320.5,199L326.9,195.8L335,192.6L343.1,190.2L341.5,187.7L336.6,186.1L338.2,182.9L344.7,179.7L347.9,177.3L354.4,176.5L359.2,178.1L362.4,182.9L367.3,186.1L373.7,187.7L378.5,186.9L376.9,191L373.7,194.2L370.5,197.4L365.6,200.6L360.8,202.3L356,204.7L351.1,207.1M241.5,206.3L243.1,210.3L247.9,213.5L251.1,218.4L254.4,221.6L259.2,224.8L267.3,226.5L276.9,229.7L283.4,231.3L289.8,231.3L294.7,232.9L296.3,237.7L299.5,241L302.7,244.2L306,241L312.4,241L318.9,241L325.3,241.8" fill="none" stroke="#000" stroke-width="3" stroke-linejoin="round" stroke-linecap="round"/><path d="M246.3,208.7L251.1,205.5L257.6,203.1L264,202.3L270.5,202.3L273.7,203.9L274.5,206.3M256,221.6L262.4,225.6L270.5,226.5L280.2,226.5L288.2,227.3M280.2,217.6L288.2,216.8L294.7,218.4L297.9,223.2L299.5,228.1L301.1,232.9L304.4,231.3L309.2,228.1L315.6,226.5L322.1,226.5L328.5,224.8L335,223.2L341.5,221.6L347.9,221.6M285,216.8L291.5,220L296.3,224.8L297.9,231.3L299.5,234.5M293.1,215.2L299.5,216.8L304.4,218.4L306,216.8L302.7,213.5L309.2,210.3L314,207.1L317.3,203.9L322.1,203.1L323.7,207.1L323.7,213.5L328.5,215.2L335,213.5L341.5,210.3L346.3,208.7M306,236.1L312.4,237.7L318.9,239.4L325.3,241L331.8,241.8M338.2,185.6L344.2,182.4L346,179.2L351.1,176.8L357.6,176.8L362.4,180.8L367.3,185.6L375.3,187.2" fill="none" stroke="#0000ff" stroke-width="2" stroke-linejoin="round" stroke-linecap="round"/>
</g>
<rect x="77.4" y="100" width="805" height="379.3" fill="none" stroke="#222" stroke-width="1.1"/>
<g fill="#22229a"><ellipse cx="56.7" cy="46.8" rx="2.9" ry="1.15" transform="rotate(15 56.7 46.8)"/><ellipse cx="55.9" cy="44.6" rx="2.9" ry="1.15" transform="rotate(-55 55.9 44.6)"/><ellipse cx="50.2" cy="50.0" rx="2.9" ry="1.15" transform="rotate(2 50.2 50.0)"/><ellipse cx="48.9" cy="48.0" rx="2.9" ry="1.15" transform="rotate(-68 48.9 48.0)"/><ellipse cx="45.5" cy="53.9" rx="2.9" ry="1.15" transform="rotate(-15 45.5 53.9)"/><ellipse cx="43.7" cy="52.4" rx="2.9" ry="1.15" transform="rotate(-85 43.7 52.4)"/><ellipse cx="43.1" cy="58.3" rx="2.9" ry="1.15" transform="rotate(-38 43.1 58.3)"/><ellipse cx="40.8" cy="57.6" rx="2.9" ry="1.15" transform="rotate(-108 40.8 57.6)"/><ellipse cx="42.8" cy="62.7" rx="2.9" ry="1.15" transform="rotate(-66 42.8 62.7)"/><ellipse cx="40.5" cy="63.2" rx="2.9" ry="1.15" transform="rotate(-136 40.5 63.2)"/><ellipse cx="44.8" cy="67.1" rx="2.9" ry="1.15" transform="rotate(-91 44.8 67.1)"/><ellipse cx="42.9" cy="68.5" rx="2.9" ry="1.15" transform="rotate(-161 42.9 68.5)"/><ellipse cx="48.9" cy="71.2" rx="2.9" ry="1.15" transform="rotate(-109 48.9 71.2)"/><ellipse cx="47.6" cy="73.1" rx="2.9" ry="1.15" transform="rotate(-179 47.6 73.1)"/><ellipse cx="55.1" cy="74.6" rx="2.9" ry="1.15" transform="rotate(-122 55.1 74.6)"/><ellipse cx="54.2" cy="76.8" rx="2.9" ry="1.15" transform="rotate(-192 54.2 76.8)"/><ellipse cx="62.7" cy="77.0" rx="2.9" ry="1.15" transform="rotate(-132 62.7 77.0)"/><ellipse cx="62.2" cy="79.3" rx="2.9" ry="1.15" transform="rotate(-202 62.2 79.3)"/><ellipse cx="93.3" cy="46.8" rx="2.9" ry="1.15" transform="rotate(55 93.3 46.8)"/><ellipse cx="94.1" cy="44.6" rx="2.9" ry="1.15" transform="rotate(-15 94.1 44.6)"/><ellipse cx="99.8" cy="50.0" rx="2.9" ry="1.15" transform="rotate(68 99.8 50.0)"/><ellipse cx="101.1" cy="48.0" rx="2.9" ry="1.15" transform="rotate(-2 101.1 48.0)"/><ellipse cx="104.5" cy="53.9" rx="2.9" ry="1.15" transform="rotate(85 104.5 53.9)"/><ellipse cx="106.3" cy="52.4" rx="2.9" ry="1.15" transform="rotate(15 106.3 52.4)"/><ellipse cx="106.9" cy="58.3" rx="2.9" ry="1.15" transform="rotate(108 106.9 58.3)"/><ellipse cx="109.2" cy="57.6" rx="2.9" ry="1.15" transform="rotate(38 109.2 57.6)"/><ellipse cx="107.2" cy="62.7" rx="2.9" ry="1.15" transform="rotate(136 107.2 62.7)"/><ellipse cx="109.5" cy="63.2" rx="2.9" ry="1.15" transform="rotate(66 109.5 63.2)"/><ellipse cx="105.2" cy="67.1" rx="2.9" ry="1.15" transform="rotate(161 105.2 67.1)"/><ellipse cx="107.1" cy="68.5" rx="2.9" ry="1.15" transform="rotate(91 107.1 68.5)"/><ellipse cx="101.1" cy="71.2" rx="2.9" ry="1.15" transform="rotate(179 101.1 71.2)"/><ellipse cx="102.4" cy="73.1" rx="2.9" ry="1.15" transform="rotate(109 102.4 73.1)"/><ellipse cx="94.9" cy="74.6" rx="2.9" ry="1.15" transform="rotate(192 94.9 74.6)"/><ellipse cx="95.8" cy="76.8" rx="2.9" ry="1.15" transform="rotate(122 95.8 76.8)"/><ellipse cx="87.3" cy="77.0" rx="2.9" ry="1.15" transform="rotate(202 87.3 77.0)"/><ellipse cx="87.8" cy="79.3" rx="2.9" ry="1.15" transform="rotate(132 87.8 79.3)"/></g><g fill="none" stroke="#22229a"><ellipse cx="74.7" cy="60.1" rx="27.3" ry="13.6" stroke-width="1.2"/><ellipse cx="74.7" cy="60.1" rx="24" ry="11.3" stroke-width="0.8"/><path d="M48,60.5H101M52,53.5Q75,47 98,53.5M52,67Q75,73 98,67M74.7,47V73.5M62,48Q56,60 62,72.5M87,48Q93,60 87,72.5" stroke-width="0.6"/><path d="M57,55L60,52L66,51L70,53L72,56L70,59L72,62L70,66L67,67L65,63L62,62L60,64L58,61L56,58Z" stroke-width="0.9"/><path d="M58,78Q75,84 92,78" stroke-width="1.6"/></g><text x="74" y="65.7" font-family="Liberation Sans,sans-serif" font-weight="bold" font-style="italic" font-size="15.5" fill="#22229a" textLength="26" lengthAdjust="spacingAndGlyphs">NCC</text><text x="63.5" y="45.5" font-family="Noto Sans CJK SC,sans-serif" font-size="5.5" fill="#22229a">中</text><text x="82" y="45.5" font-family="Noto Sans CJK SC,sans-serif" font-size="5.5" fill="#22229a">国</text><circle cx="140" cy="59.8" r="19.5" fill="#fff" stroke="#8a8a8a" stroke-width="1"/><circle cx="140" cy="59.8" r="15.8" fill="none" stroke="#c8c8c8" stroke-width="0.6"/><circle cx="140" cy="59.8" r="17.6" fill="none" stroke="#777" stroke-width="1.6" stroke-dasharray="1.2 1.8"/><path d="M136.5,57.5C133,54 135,48.5 140.5,48.5C143.5,48.5 145,50 145.5,51C148,50 151.5,51.5 151.5,54.5C151.5,56.5 150.5,57.5 149,58" fill="none" stroke="#e0202a" stroke-width="2.8" stroke-linecap="round"/><path d="M129.5,53C126.5,55 127,59 130.5,60C132,62.5 136,63 138,61.5C141,63.5 146,62 146,58C146,55 143,53.5 140.5,54.5" fill="none" stroke="#1f3fa8" stroke-width="2.8" stroke-linecap="round"/><text x="130.6" y="71.4" font-family="Liberation Serif,serif" font-weight="bold" font-size="9.5" fill="#111" textLength="18.8" lengthAdjust="spacingAndGlyphs">BCC</text>
<path d="M68.1,416.1H77.4M68.1,352.9H77.4M68.1,289.7H77.4M68.1,226.5H77.4M68.1,163.3H77.4M211.6,479.3v8.7M345.7,479.3v8.7M479.9,479.3v8.7M614.1,479.3v8.7M748.2,479.3v8.7" stroke="#111" stroke-width="1.8" fill="none"/><path d="M71.4,458.2H77.4M71.4,437.2H77.4M71.4,395.0H77.4M71.4,374.0H77.4M71.4,331.8H77.4M71.4,310.8H77.4M71.4,268.6H77.4M71.4,247.6H77.4M71.4,205.4H77.4M71.4,184.4H77.4M71.4,142.2H77.4M71.4,121.2H77.4M99.8,479.3v5.5M122.1,479.3v5.5M144.5,479.3v5.5M166.8,479.3v5.5M189.2,479.3v5.5M233.9,479.3v5.5M256.3,479.3v5.5M278.6,479.3v5.5M301.0,479.3v5.5M323.4,479.3v5.5M368.1,479.3v5.5M390.5,479.3v5.5M412.8,479.3v5.5M435.2,479.3v5.5M457.5,479.3v5.5M502.3,479.3v5.5M524.6,479.3v5.5M547.0,479.3v5.5M569.3,479.3v5.5M591.7,479.3v5.5M636.4,479.3v5.5M658.8,479.3v5.5M681.1,479.3v5.5M703.5,479.3v5.5M725.9,479.3v5.5M770.6,479.3v5.5M793.0,479.3v5.5M815.3,479.3v5.5M837.7,479.3v5.5M860.0,479.3v5.5" stroke="#333" stroke-width="1" fill="none"/>
<g class="t" font-size="16"><text x="66.6" y="169.1" text-anchor="end">60N</text><text x="66.6" y="232.3" text-anchor="end">30N</text><text x="66.6" y="295.5" text-anchor="end">EQ</text><text x="66.6" y="358.7" text-anchor="end">30S</text><text x="66.6" y="421.9" text-anchor="end">60S</text><text x="211.6" y="502.6" text-anchor="middle">60E</text><text x="345.7" y="502.6" text-anchor="middle">120E</text><text x="479.9" y="502.6" text-anchor="middle">180</text><text x="614.1" y="502.6" text-anchor="middle">120W</text><text x="748.2" y="502.6" text-anchor="middle">60W</text></g>
<g class="t" font-size="15.3"><rect x="117.40" y="535" width="45.59" height="16.6" fill="#03003f"/><rect x="162.69" y="535" width="45.59" height="16.6" fill="#000080"/><rect x="207.98" y="535" width="45.59" height="16.6" fill="#0a0ae6"/><rect x="253.26" y="535" width="45.59" height="16.6" fill="#4b4bf0"/><rect x="298.55" y="535" width="45.59" height="16.6" fill="#5596e6"/><rect x="343.84" y="535" width="45.59" height="16.6" fill="#5fc8f8"/><rect x="389.12" y="535" width="45.59" height="16.6" fill="#c8e6fa"/><rect x="434.41" y="535" width="45.59" height="16.6" fill="#a8f8a8"/><rect x="479.70" y="535" width="45.59" height="16.6" fill="#ffff80"/><rect x="524.99" y="535" width="45.59" height="16.6" fill="#ffe4a0"/><rect x="570.27" y="535" width="45.59" height="16.6" fill="#ffa060"/><rect x="615.56" y="535" width="45.59" height="16.6" fill="#ff7850"/><rect x="660.85" y="535" width="45.59" height="16.6" fill="#f06480"/><rect x="706.14" y="535" width="45.59" height="16.6" fill="#e8384a"/><rect x="751.42" y="535" width="45.59" height="16.6" fill="#c81e28"/><rect x="796.71" y="535" width="45.59" height="16.6" fill="#a00000"/><g stroke="#000" stroke-width="1" fill="none"><rect x="117.4" y="535" width="724.6" height="16.6"/><line x1="162.69" y1="535" x2="162.69" y2="551.6"/><line x1="207.98" y1="535" x2="207.98" y2="551.6"/><line x1="253.26" y1="535" x2="253.26" y2="551.6"/><line x1="298.55" y1="535" x2="298.55" y2="551.6"/><line x1="343.84" y1="535" x2="343.84" y2="551.6"/><line x1="389.12" y1="535" x2="389.12" y2="551.6"/><line x1="434.41" y1="535" x2="434.41" y2="551.6"/><line x1="479.70" y1="535" x2="479.70" y2="551.6"/><line x1="524.99" y1="535" x2="524.99" y2="551.6"/><line x1="570.27" y1="535" x2="570.27" y2="551.6"/><line x1="615.56" y1="535" x2="615.56" y2="551.6"/><line x1="660.85" y1="535" x2="660.85" y2="551.6"/><line x1="706.14" y1="535" x2="706.14" y2="551.6"/><line x1="751.42" y1="535" x2="751.42" y2="551.6"/><line x1="796.71" y1="535" x2="796.71" y2="551.6"/></g><text x="162.69" y="567.5" text-anchor="middle">-12</text><text x="207.98" y="567.5" text-anchor="middle">-10</text><text x="253.26" y="567.5" text-anchor="middle">-8</text><text x="298.55" y="567.5" text-anchor="middle">-6</text><text x="343.84" y="567.5" text-anchor="middle">-4</text><text x="389.12" y="567.5" text-anchor="middle">-2</text><text x="434.41" y="567.5" text-anchor="middle">-1</text><text x="479.70" y="567.5" text-anchor="middle">0</text><text x="524.99" y="567.5" text-anchor="middle">1</text><text x="570.27" y="567.5" text-anchor="middle">2</text><text x="615.56" y="567.5" text-anchor="middle">4</text><text x="660.85" y="567.5" text-anchor="middle">6</text><text x="706.14" y="567.5" text-anchor="middle">8</text><text x="751.42" y="567.5" text-anchor="middle">10</text><text x="796.71" y="567.5" text-anchor="middle">12</text></g>
<text class="t" x="465" y="62.3" font-size="20" text-anchor="middle">全球平均气温距平分布图</text>
<text class="t" x="465" y="86" font-size="15.8" text-anchor="middle">2026年04月05日-2026年04月24日</text>
<g class="t">
<text x="745.6" y="48" font-size="14" textLength="138.8" lengthAdjust="spacingAndGlyphs">气候值：1991-2020年</text>
<text x="819.8" y="68.4" font-size="13.2" textLength="63.7" lengthAdjust="spacingAndGlyphs">数据：CPC</text>
<text x="836.8" y="87.8" font-size="13.2" textLength="46.7" lengthAdjust="spacingAndGlyphs">单位：℃</text>
</g>
</svg>
</body></html>
